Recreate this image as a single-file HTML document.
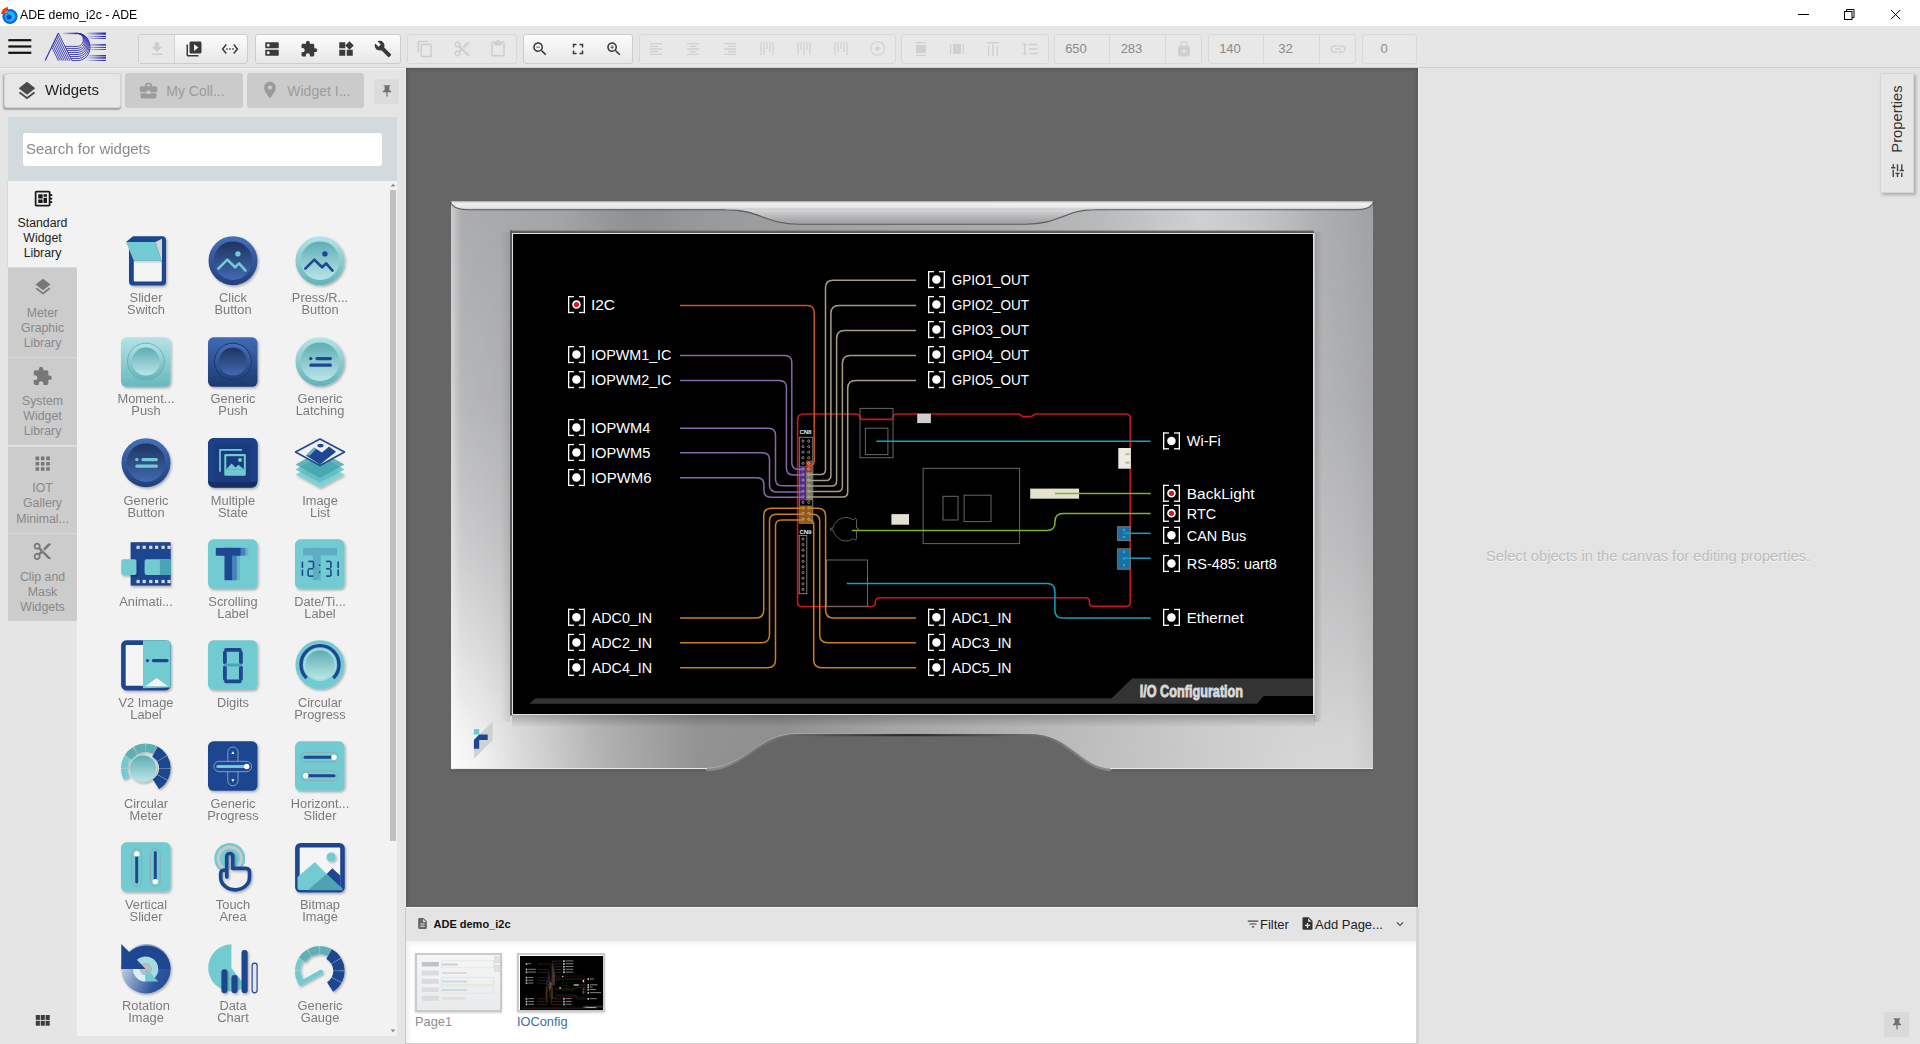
<!DOCTYPE html><html><head><meta charset="utf-8"><style>

*{box-sizing:border-box;margin:0;padding:0}
html,body{width:1920px;height:1044px;overflow:hidden;background:#e5e5e5;font-family:"Liberation Sans",sans-serif;-webkit-font-smoothing:antialiased}
.abs{position:absolute}

</style></head><body>
<div class="abs" style="left:0;top:0;width:1920px;height:26px;background:#fff"></div>
<svg class="abs" style="left:0px;top:6px" width="19" height="19" viewBox="0 0 19 19">
  <circle cx="10" cy="10.5" r="7.6" fill="#1560e8"/>
  <circle cx="10" cy="10.5" r="5.2" fill="#18b8f8"/>
  <circle cx="9" cy="11" r="2.6" fill="#1048d0"/>
  <path d="M1 8 A7.5 7.5 0 0 1 8 1 L8 8Z" fill="#f23a12"/>
  <circle cx="6.3" cy="6" r="1.3" fill="#50d040"/>
 </svg>
<div class="abs" style="left:20px;top:9.34px;font-size:12px;line-height:12px;color:#000;white-space:nowrap;transform:scaleX(1.022);transform-origin:0 0;">ADE demo_i2c - ADE</div>
<svg class="abs" style="left:1790px;top:0" width="130" height="26" viewBox="1790 0 130 26">
  <path d="M1798 14.5h11" stroke="#000" stroke-width="1"/>
  <rect x="1844.5" y="11.5" width="7.5" height="8" fill="none" stroke="#000" stroke-width="1"/>
  <path d="M1846.5 11.5v-2h7.5v8h-2" fill="none" stroke="#000" stroke-width="1"/>
  <path d="M1891 10l9.2 9.2M1900.2 10l-9.2 9.2" stroke="#000" stroke-width="1"/>
 </svg>
<div class="abs" style="left:0;top:26px;width:1920px;height:41px;background:#e6e6e6"></div>
<div class="abs" style="left:0;top:67px;width:1920px;height:1px;background:#d0d0d0"></div>
<svg class="abs" style="left:8px;top:38px" width="24" height="18" viewBox="8 38 24 18"><rect x="8.3" y="39.1" width="23" height="2.2" fill="#111"/><rect x="8.3" y="45.4" width="23" height="2.2" fill="#111"/><rect x="8.3" y="51.7" width="23" height="2.2" fill="#111"/></svg>
<svg class="abs" style="left:44px;top:31px" width="64" height="32" viewBox="44 31 64 32">
<defs><linearGradient id="fadeL" x1="85" x2="104" gradientUnits="userSpaceOnUse"><stop offset="0" stop-color="#2b2bb0" stop-opacity="0"/><stop offset="1" stop-color="#2b2bb0" stop-opacity="1"/></linearGradient><linearGradient id="fadeD" x1="61" x2="76" gradientUnits="userSpaceOnUse"><stop offset="0" stop-color="#2b2bb0" stop-opacity="0"/><stop offset="1" stop-color="#2b2bb0" stop-opacity="1"/></linearGradient></defs>
<path d="M45.2 60.6 L58.4 32.9" stroke="#2b2bb0" stroke-width="1.1" fill="none"/>
<path d="M58.40 32.90 L71.86 60.6" stroke="#2b2bb0" stroke-width="0.85" fill="none"/>
<path d="M57.49 34.99 L69.93 60.6" stroke="#2b2bb0" stroke-width="0.85" fill="none"/>
<path d="M56.57 37.07 L68.01 60.6" stroke="#2b2bb0" stroke-width="0.85" fill="none"/>
<path d="M55.66 39.16 L66.08 60.6" stroke="#2b2bb0" stroke-width="0.85" fill="none"/>
<path d="M54.74 41.24 L64.15 60.6" stroke="#2b2bb0" stroke-width="0.85" fill="none"/>
<path d="M53.83 43.33 L62.22 60.6" stroke="#2b2bb0" stroke-width="0.85" fill="none"/>
<path d="M52.91 45.41 L60.29 60.6" stroke="#2b2bb0" stroke-width="0.85" fill="none"/>
<path d="M52.00 47.50 L58.37 60.6" stroke="#2b2bb0" stroke-width="0.85" fill="none"/>
<path d="M61.4 33.4H77.5" stroke="url(#fadeD)" stroke-width="1.5"/>
<path d="M64.96 46.40H77C85.32 46.40 85.32 33.4 77 33.4" stroke="#2b2bb0" stroke-width="0.85" fill="none"/>
<path d="M65.95 48.43H77C86.62 48.43 86.62 33.4 77 33.4" stroke="#2b2bb0" stroke-width="0.85" fill="none"/>
<path d="M66.93 50.46H77C87.92 50.46 87.92 33.4 77 33.4" stroke="#2b2bb0" stroke-width="0.85" fill="none"/>
<path d="M67.92 52.49H77C89.22 52.49 89.22 33.4 77 33.4" stroke="#2b2bb0" stroke-width="0.85" fill="none"/>
<path d="M68.91 54.52H77C90.52 54.52 90.52 33.4 77 33.4" stroke="#2b2bb0" stroke-width="0.85" fill="none"/>
<path d="M69.89 56.55H77C91.82 56.55 91.82 33.4 77 33.4" stroke="#2b2bb0" stroke-width="0.85" fill="none"/>
<path d="M70.88 58.58H77C93.12 58.58 93.12 33.4 77 33.4" stroke="#2b2bb0" stroke-width="0.85" fill="none"/>
<path d="M71.87 60.61H77C94.41 60.61 94.41 33.4 77 33.4" stroke="#2b2bb0" stroke-width="0.85" fill="none"/>
<rect x="85" y="32.5" width="21" height="2.2" fill="url(#fadeL)"/>
<rect x="85" y="35.9" width="21" height="1.1" fill="url(#fadeL)"/>
<rect x="85" y="37.9" width="21" height="1.0" fill="url(#fadeL)"/>
<rect x="85" y="44.1" width="21" height="1.5" fill="url(#fadeL)"/>
<rect x="85" y="46.9" width="21" height="1.0" fill="url(#fadeL)"/>
<rect x="85" y="49.0" width="21" height="0.8" fill="url(#fadeL)"/>
<rect x="85" y="55.0" width="21" height="1.5" fill="url(#fadeL)"/>
<rect x="85" y="57.2" width="21" height="1.5" fill="url(#fadeL)"/>
<rect x="85" y="59.9" width="21" height="1.1" fill="url(#fadeL)"/>
</svg>
<div class="abs" style="left:138px;top:34px;width:110px;height:30px;border:1px solid #cdcdcd;border-radius:3px;background:linear-gradient(#fcfcfc,#e7e7e7);"></div>
<div class="abs" style="left:139px;top:35px;width:36px;height:28px;background:#e8e8e8;border-right:1px solid #d4d4d4"></div>
<svg class="abs" style="left:148.0px;top:40.0px" width="18" height="18" viewBox="0 0 24 24"><path d="M19 9h-4V3H9v6H5l7 7 7-7zM5 18v2h14v-2H5z" fill="#cdcdcd"/></svg>
<svg class="abs" style="left:184.5px;top:40.0px" width="18" height="18" viewBox="0 0 24 24"><path d="M4 6H2v14c0 1.1.9 2 2 2h14v-2H4V6zm16-4H8c-1.1 0-2 .9-2 2v12c0 1.1.9 2 2 2h12c1.1 0 2-.9 2-2V4c0-1.1-.9-2-2-2zm-8 12.5v-9l6 4.5-6 4.5z" fill="#3a3a3a"/></svg>
<svg class="abs" style="left:221.0px;top:40.0px" width="18" height="18" viewBox="0 0 24 24"><path d="M7.77 6.76L6.23 5.48.82 12l5.41 6.52 1.54-1.28L3.42 12l4.35-5.24zM7 13h2v-2H7v2zm10-2h-2v2h2v-2zm-6 2h2v-2h-2v2zm6.77-7.52l-1.54 1.28L20.58 12l-4.35 5.24 1.54 1.28L23.18 12l-5.41-6.52z" fill="#3a3a3a"/></svg>
<div class="abs" style="left:254.5px;top:34px;width:146.5px;height:30px;border:1px solid #cdcdcd;border-radius:3px;background:linear-gradient(#fcfcfc,#e7e7e7);"></div>
<svg class="abs" style="left:263.0px;top:40.0px" width="18" height="18" viewBox="0 0 24 24"><path d="M20 13H4c-.55 0-1 .45-1 1v6c0 .55.45 1 1 1h16c.55 0 1-.45 1-1v-6c0-.55-.45-1-1-1zM7 19c-1.1 0-2-.9-2-2s.9-2 2-2 2 .9 2 2-.9 2-2 2zM20 3H4c-.55 0-1 .45-1 1v6c0 .55.45 1 1 1h16c.55 0 1-.45 1-1V4c0-.55-.45-1-1-1zM7 9c-1.1 0-2-.9-2-2s.9-2 2-2 2 .9 2 2-.9 2-2 2z" fill="#3a3a3a"/></svg>
<svg class="abs" style="left:300.0px;top:40.0px" width="18" height="18" viewBox="0 0 24 24"><path d="M20.5 11H19V7c0-1.1-.9-2-2-2h-4V3.5C13 2.12 11.88 1 10.5 1S8 2.12 8 3.5V5H4c-1.1 0-1.99.9-1.99 2v3.8H3.5c1.49 0 2.7 1.21 2.7 2.7s-1.21 2.7-2.7 2.7H2V20c0 1.1.9 2 2 2h3.8v-1.5c0-1.490 1.21-2.7 2.7-2.7 1.49 0 2.7 1.21 2.7 2.7V22H17c1.1 0 2-.9 2-2v-4h1.5c1.38 0 2.5-1.12 2.5-2.5S21.88 11 20.5 11z" fill="#3a3a3a"/></svg>
<svg class="abs" style="left:337.0px;top:40.0px" width="18" height="18" viewBox="0 0 24 24"><path d="M13 13v8h8v-8h-8zM3 21h8v-8H3v8zM3 3v8h8V3H3zm13.66-1.31L11 7.34 16.66 13l5.66-5.66-5.66-5.65z" fill="#3a3a3a"/></svg>
<svg class="abs" style="left:374.0px;top:40.0px" width="18" height="18" viewBox="0 0 24 24"><path d="M22.7 19l-9.1-9.1c.9-2.3.4-5-1.5-6.9-2-2-5-2.4-7.4-1.3L9 6 6 9 1.6 4.7C.4 7.1.9 10.1 2.9 12.1c1.9 1.9 4.6 2.4 6.9 1.5l9.1 9.1c.4.4 1 .4 1.4 0l2.300-2.3c.5-.4.5-1.1.1-1.4z" fill="#3a3a3a"/></svg>
<div class="abs" style="left:407px;top:34px;width:109.5px;height:30px;border:1px solid #d8d8d8;border-radius:3px;background:#e8e8e8;"></div>
<svg class="abs" style="left:416.0px;top:40.0px" width="18" height="18" viewBox="0 0 24 24"><path d="M16 1H4c-1.1 0-2 .9-2 2v14h2V3h12V1zm3 4H8c-1.1 0-2 .9-2 2v14c0 1.1.9 2 2 2h11c1.1 0 2-.9 2-2V7c0-1.1-.9-2-2-2zm0 16H8V7h11v14z" fill="#cdcdcd"/></svg>
<svg class="abs" style="left:452.5px;top:40.0px" width="18" height="18" viewBox="0 0 24 24"><path d="M9.64 7.64c.23-.5.36-1.05.36-1.64 0-2.21-1.79-4-4-4S2 3.79 2 6s1.79 4 4 4c.59 0 1.14-.13 1.64-.36L10 12l-2.36 2.36C7.14 14.13 6.59 14 6 14c-2.21 0-4 1.79-4 4s1.79 4 4 4 4-1.790 4-4c0-.59-.13-1.14-.36-1.64L12 14l7 7h3v-1L9.64 7.64zM6 8c-1.1 0-2-.89-2-2s.9-2 2-2 2 .89 2 2-.9 2-2 2zm0 12c-1.1 0-2-.89-2-2s.9-2 2-2 2 .89 2 2-.9 2-2 2zm6-7.5c-.28 0-.5-.22-.5-.5s.22-.5.5-.5.5.22.5.5-.22.5-.5.5zM19 3l-6 6 2 2 7-7V3z" fill="#cdcdcd"/></svg>
<svg class="abs" style="left:489.0px;top:40.0px" width="18" height="18" viewBox="0 0 24 24"><path d="M19 2h-4.18C14.4.84 13.3 0 12 0c-1.3 0-2.4.84-2.82 2H5c-1.1 0-2 .9-2 2v16c0 1.1.9 2 2 2h14c1.1 0 2-.9 2-2V4c0-1.1-.9-2-2-2zm-7 0c.55 0 1 .45 1 1s-.45 1-1 1-1-.45-1-1 .45-1 1-1zm7 18H5V4h2v3h10V4h2v16z" fill="#cdcdcd"/></svg>
<div class="abs" style="left:522.5px;top:34px;width:110.0px;height:30px;border:1px solid #cdcdcd;border-radius:3px;background:linear-gradient(#fcfcfc,#e7e7e7);"></div>
<svg class="abs" style="left:531.0px;top:40.0px" width="18" height="18" viewBox="0 0 24 24"><path d="M15.5 14h-.79l-.28-.27C15.41 12.59 16 11.11 16 9.5 16 5.910 13.09 3 9.5 3S3 5.91 3 9.5 5.91 16 9.5 16c1.61 0 3.09-.59 4.23-1.57l.27.28v.79l5 4.99L20.49 19l-4.99-5zm-6 0C7.01 14 5 11.99 5 9.5S7.01 5 9.5 5 14 7.01 14 9.5 11.99 14 9.5 14zM7 9h5v1H7z" fill="#3a3a3a"/></svg>
<svg class="abs" style="left:568.5px;top:40.0px" width="18" height="18" viewBox="0 0 24 24"><path d="M7 14H5v5h5v-2H7v-3zm-2-4h2V7h3V5H5v5zm12 7h-3v2h5v-5h-2v3zM14 5v2h3v3h2V5h-5z" fill="#3a3a3a"/></svg>
<svg class="abs" style="left:605.0px;top:40.0px" width="18" height="18" viewBox="0 0 24 24"><path d="M15.5 14h-.79l-.28-.27C15.41 12.59 16 11.11 16 9.5 16 5.91 13.09 3 9.5 3S3 5.91 3 9.5 5.91 16 9.5 16c1.61 0 3.09-.59 4.23-1.57l.27.28v.79l5 4.99L20.49 19l-4.99-5zm-6 0C7.01 14 5 11.99 5 9.5S7.01 5 9.5 5 14 7.01 14 9.5 11.99 14 9.5 14zm2.5-4h-2v2H9v-2H7V9h2V7h1v2h2v1z" fill="#3a3a3a"/></svg>
<div class="abs" style="left:638.5px;top:34px;width:257.0px;height:30px;border:1px solid #d8d8d8;border-radius:3px;background:#e8e8e8;"></div>
<svg class="abs" style="left:648px;top:41px" width="16" height="16" viewBox="0 0 24 24"><path d="M15 15H3v2h12v-2zm0-8H3v2h12V7zM3 13h18v-2H3v2zm0 8h18v-2H3v2zM3 3v2h18V3H3z" fill="#d0d0d0"/></svg>
<svg class="abs" style="left:684.5px;top:41px" width="16" height="16" viewBox="0 0 24 24"><path d="M7 15v2h10v-2H7zm-4 6h18v-2H3v2zm0-8h18v-2H3v2zm4-6v2h10V7H7zM3 3v2h18V3H3z" fill="#d0d0d0"/></svg>
<svg class="abs" style="left:722px;top:41px" width="16" height="16" viewBox="0 0 24 24"><path d="M3 21h18v-2H3v2zm6-4h12v-2H9v2zm-6-4h18v-2H3v2zm6-4h12V7H9v2zM3 3v2h18V3H3z" fill="#d0d0d0"/></svg>
<svg class="abs" style="left:760px;top:41px" width="14" height="15" viewBox="0 0 14 15"><rect x="0.4" y="1" width="1.2" height="13" fill="#d0d0d0"/><rect x="3.4" y="1" width="1.2" height="13" fill="#d0d0d0"/><rect x="6.4" y="1" width="1.2" height="7" fill="#d0d0d0"/><rect x="9.4" y="1" width="1.2" height="10" fill="#d0d0d0"/><rect x="12.4" y="1" width="1.2" height="13" fill="#d0d0d0"/></svg>
<svg class="abs" style="left:797px;top:41px" width="14" height="15" viewBox="0 0 14 15"><rect x="0.4" y="1" width="1.2" height="13" fill="#d0d0d0"/><rect x="3.4" y="1" width="1.2" height="8" fill="#d0d0d0"/><rect x="6.4" y="1" width="1.2" height="13" fill="#d0d0d0"/><rect x="9.4" y="1" width="1.2" height="8" fill="#d0d0d0"/><rect x="12.4" y="1" width="1.2" height="13" fill="#d0d0d0"/></svg>
<svg class="abs" style="left:834px;top:41px" width="14" height="15" viewBox="0 0 14 15"><rect x="0.4" y="1" width="1.2" height="13" fill="#d0d0d0"/><rect x="3.4" y="1" width="1.2" height="10" fill="#d0d0d0"/><rect x="6.4" y="1" width="1.2" height="7" fill="#d0d0d0"/><rect x="9.4" y="1" width="1.2" height="10" fill="#d0d0d0"/><rect x="12.4" y="1" width="1.2" height="13" fill="#d0d0d0"/></svg>
<svg class="abs" style="left:869px;top:40px" width="17" height="17" viewBox="0 0 17 17"><circle cx="8.5" cy="8.5" r="6.8" fill="none" stroke="#d0d0d0" stroke-width="1.1"/><circle cx="8.5" cy="8.5" r="2" fill="#d0d0d0"/></svg>
<div class="abs" style="left:901px;top:34px;width:147.5px;height:30px;border:1px solid #d8d8d8;border-radius:3px;background:#e8e8e8;"></div>
<svg class="abs" style="left:913px;top:41px" width="16" height="16" viewBox="0 0 16 16"><rect x="3" y="1" width="10" height="1.3" fill="#d0d0d0"/><rect x="3" y="4" width="10" height="8" fill="#d0d0d0"/><rect x="3" y="13.7" width="10" height="1.3" fill="#d0d0d0"/></svg>
<svg class="abs" style="left:949px;top:41px" width="16" height="16" viewBox="0 0 16 16"><rect x="1" y="3" width="1.3" height="10" fill="#d0d0d0"/><rect x="4" y="3" width="8" height="10" fill="#d0d0d0"/><rect x="13.7" y="3" width="1.3" height="10" fill="#d0d0d0"/></svg>
<svg class="abs" style="left:985px;top:41px" width="16" height="16" viewBox="0 0 16 16"><rect x="2" y="1" width="12" height="1.3" fill="#d0d0d0"/><rect x="3" y="5" width="1.3" height="10" fill="#d0d0d0"/><rect x="7.3" y="5" width="1.3" height="10" fill="#d0d0d0"/><rect x="11.6" y="5" width="1.3" height="10" fill="#d0d0d0"/><path d="M8 2v3" stroke="#d0d0d0"/></svg>
<svg class="abs" style="left:1021px;top:40px" width="18" height="18" viewBox="0 0 24 24"><path d="M6 7h2.5L5 3.5 1.5 7H4v10H1.5L5 20.5 8.5 17H6V7zm4-2v2h12V5H10zm0 14h12v-2H10v2zm0-6h12v-2H10v2z" fill="#d0d0d0"/></svg>
<div class="abs" style="left:1054px;top:34px;width:148px;height:30px;border:1px solid #d8d8d8;border-radius:3px;background:#e8e8e8;"></div>
<div class="abs" style="left:1109px;top:35px;width:1px;height:28px;background:#d8d8d8"></div>
<div class="abs" style="left:1165px;top:35px;width:1px;height:28px;background:#d8d8d8"></div>
<div class="abs" style="left:876px;width:400px;text-align:center;top:42.30px;font-size:13px;line-height:13px;color:#8a8a8a;white-space:nowrap;">650</div>
<div class="abs" style="left:931.5px;width:400px;text-align:center;top:42.30px;font-size:13px;line-height:13px;color:#8a8a8a;white-space:nowrap;">283</div>
<svg class="abs" style="left:1175px;top:40px" width="18" height="18" viewBox="0 0 24 24"><path d="M18 8h-1V6c0-2.76-2.24-5-5-5S7 3.24 7 6v2H6c-1.1 0-2 .9-2 2v10c0 1.1.9 2 2 2h12c1.1 0 2-.9 2-2V10c0-1.1-.9-2-2-2zm-6 9c-1.1 0-2-.9-2-2s.9-2 2-2 2 .9 2 2-.9 2-2 2zm3.1-9H8.9V6c0-1.71 1.39-3.1 3.1-3.1 1.71 0 3.1 1.39 3.1 3.1v2z" fill="#d0d0d0"/></svg>
<div class="abs" style="left:1208px;top:34px;width:148px;height:30px;border:1px solid #d8d8d8;border-radius:3px;background:#e8e8e8;"></div>
<div class="abs" style="left:1263px;top:35px;width:1px;height:28px;background:#d8d8d8"></div>
<div class="abs" style="left:1319px;top:35px;width:1px;height:28px;background:#d8d8d8"></div>
<div class="abs" style="left:1030px;width:400px;text-align:center;top:42.30px;font-size:13px;line-height:13px;color:#8a8a8a;white-space:nowrap;">140</div>
<div class="abs" style="left:1085.5px;width:400px;text-align:center;top:42.30px;font-size:13px;line-height:13px;color:#8a8a8a;white-space:nowrap;">32</div>
<svg class="abs" style="left:1329px;top:40px" width="18" height="18" viewBox="0 0 24 24"><path d="M3.9 12c0-1.71 1.39-3.1 3.1-3.1h4V7H7c-2.76 0-5 2.24-5 5s2.24 5 5 5h4v-1.9H7c-1.71 0-3.1-1.39-3.1-3.1zM8 13h8v-2H8v2zm9-6h-4v1.9h4c1.71 0 3.1 1.39 3.1 3.1s-1.39 3.1-3.1 3.1h-4V17h4c2.76 0 5-2.24 5-5s-2.24-5-5-5z" fill="#d0d0d0"/></svg>
<div class="abs" style="left:1362px;top:34px;width:55px;height:30px;border:1px solid #d8d8d8;border-radius:3px;background:#e8e8e8;"></div>
<div class="abs" style="left:1184px;width:400px;text-align:center;top:42.30px;font-size:13px;line-height:13px;color:#8a8a8a;white-space:nowrap;">0</div>
<svg width="0" height="0" style="position:absolute"><defs>
<linearGradient id="gBlueOut" x1="0" y1="0" x2="0" y2="1"><stop offset="0" stop-color="#4470b9"/><stop offset="1" stop-color="#213f7c"/></linearGradient>
<linearGradient id="gBlueIn" x1="0" y1="0" x2="0" y2="1"><stop offset="0" stop-color="#1d3460"/><stop offset="1" stop-color="#4369b1"/></linearGradient>
<linearGradient id="gTealOut" x1="0" y1="0" x2="0" y2="1"><stop offset="0" stop-color="#b6e4e7"/><stop offset="1" stop-color="#62b3b9"/></linearGradient>
<linearGradient id="gTealIn" x1="0" y1="0" x2="0" y2="1"><stop offset="0" stop-color="#5eadb3"/><stop offset="1" stop-color="#b9e6e8"/></linearGradient>
<linearGradient id="gRot" x1="0" y1="0.5" x2="1" y2="1"><stop offset="0" stop-color="#c3cde3"/><stop offset="0.65" stop-color="#2f579e"/><stop offset="1" stop-color="#1f4690"/></linearGradient>
<filter id="sh" x="-20%" y="-20%" width="150%" height="150%"><feDropShadow dx="1.2" dy="1.5" stdDeviation="1.2" flood-color="#000" flood-opacity="0.3"/></filter>
</defs></svg>
<div class="abs" style="left:0;top:68px;width:405px;height:976px;background:#e5e5e5"></div>
<div class="abs" style="left:0;top:68px;width:406px;height:1px;background:#f3f3f3"></div>
<div class="abs" style="left:405px;top:68px;width:1px;height:976px;background:#eeeeee"></div>
<div class="abs" style="left:4px;top:72.5px;width:117px;height:35.5px;background:#e7e7e7;border:1px solid #d2d2d2;border-radius:3px;box-shadow:-0.5px 1.5px 1.5px rgba(0,0,0,.28)"></div>
<svg class="abs" style="left:15.5px;top:79.5px" width="22" height="22" viewBox="0 0 24 24"><path d="M11.99 18.54l-7.37-5.73L3 14.07l9 7 9-7-1.63-1.27-7.38 5.74zM12 16l7.36-5.73L21 9l-9-7-9 7 1.63 1.27L12 16z" fill="#4a4a4a"/></svg>
<div class="abs" style="left:44.8px;top:83.35px;font-size:14px;line-height:14px;color:#222;white-space:nowrap;transform:scaleX(1.067);transform-origin:0 0;">Widgets</div>
<div class="abs" style="left:125px;top:72.5px;width:118px;height:35px;background:#cbcbcb;border-radius:3px"></div>
<svg class="abs" style="left:137.5px;top:80px" width="21" height="21" viewBox="0 0 24 24"><path d="M10 16v-1H3.01L3 19c0 1.11.89 2 2 2h14c1.11 0 2-.89 2-2v-4h-7v1h-4zm10-9h-4.01V5l-2-2h-4l-2 2v2H4c-1.1 0-2 .9-2 2v3c0 1.11.89 2 2 2h6v-2h4v2h6c1.1 0 2-.9 2-2V9c0-1.1-.9-2-2-2zm-6 0h-4V5h4v2z" fill="#9b9b9b"/></svg>
<div class="abs" style="left:166.3px;top:83.55px;font-size:14px;line-height:14px;color:#9b9b9b;white-space:nowrap;">My Coll...</div>
<div class="abs" style="left:247px;top:72.5px;width:117px;height:35px;background:#cbcbcb;border-radius:3px"></div>
<svg class="abs" style="left:259.5px;top:79.5px" width="20" height="20" viewBox="0 0 24 24"><path d="M12 2C8.13 2 5 5.13 5 9c0 5.25 7 13 7 13s7-7.75 7-13c0-3.87-3.13-7-7-7zm0 9.5c-1.38 0-2.5-1.12-2.5-2.5s1.12-2.5 2.5-2.5 2.5 1.12 2.5 2.5-1.12 2.5-2.5 2.5z" fill="#9b9b9b"/></svg>
<div class="abs" style="left:287.3px;top:83.55px;font-size:14px;line-height:14px;color:#9b9b9b;white-space:nowrap;">Widget I...</div>
<div class="abs" style="left:374px;top:79px;width:25px;height:25px;background:#dcdcdc;border-radius:3px"></div>
<svg class="abs" style="left:379.5px;top:84px" width="14" height="14" viewBox="0 0 24 24"><path d="M16 9V4h1c.55 0 1-.45 1-1s-.45-1-1-1H7c-.55 0-1 .45-1 1s.45 1 1 1h1v5c0 1.66-1.34 3-3 3v2h5.97v7l1 1 1-1v-7H19v-2c-1.66 0-3-1.34-3-3z" fill="#707070"/></svg>
<div class="abs" style="left:8px;top:117px;width:389px;height:64px;background:#d3dadd"></div>
<div class="abs" style="left:22.8px;top:132.5px;width:359.2px;height:33.5px;background:#fff;border-radius:3px"></div>
<div class="abs" style="left:26.2px;top:142.43px;font-size:14.5px;line-height:14.5px;color:#8a8a8a;white-space:nowrap;transform:scaleX(1.035);transform-origin:0 0;">Search for widgets</div>
<div class="abs" style="left:77px;top:181px;width:320px;height:855px;background:#f2f2f2"></div>
<div class="abs" style="left:8px;top:181px;width:69px;height:86.4px;background:#f2f2f2"></div>
<svg class="abs" style="left:32.9px;top:187.9px" width="21" height="21" viewBox="0 0 24 24"><path d="M22 9V7h-2V5c0-1.1-.9-2-2-2H4c-1.1 0-2 .9-2 2v14c0 1.1.9 2 2 2h14c1.1 0 2-.9 2-2v-2h2v-2h-2v-2h2v-2h-2V9h2zm-4 10H4V5h14v14zM6 13h5v4H6zm6-6h4v3h-4zM6 7h5v5H6zm6 4h4v6h-4z" fill="#1a1a1a"/></svg>
<div class="abs" style="left:-2.5px;width:90px;text-align:center;top:217.39px;font-size:12.3px;line-height:12.3px;color:#222;white-space:nowrap;">Standard</div>
<div class="abs" style="left:-2.5px;width:90px;text-align:center;top:232.09px;font-size:12.3px;line-height:12.3px;color:#222;white-space:nowrap;">Widget</div>
<div class="abs" style="left:-2.5px;width:90px;text-align:center;top:246.59px;font-size:12.3px;line-height:12.3px;color:#222;white-space:nowrap;">Library</div>
<div class="abs" style="left:8px;top:267.4px;width:69px;height:89.8px;background:#cccccc"></div>
<div class="abs" style="left:8px;top:267.4px;width:69px;height:1px;background:#d9d9d9"></div>
<svg class="abs" style="left:32.5px;top:276.9px" width="20" height="20" viewBox="0 0 24 24"><path d="M11.99 18.54l-7.37-5.73L3 14.07l9 7 9-7-1.63-1.27-7.38 5.74zM12 16l7.36-5.73L21 9l-9-7-9 7 1.63 1.27L12 16z" fill="#777"/></svg>
<div class="abs" style="left:-2.5px;width:90px;text-align:center;top:306.59px;font-size:12.3px;line-height:12.3px;color:#888;white-space:nowrap;">Meter</div>
<div class="abs" style="left:-2.5px;width:90px;text-align:center;top:321.59px;font-size:12.3px;line-height:12.3px;color:#888;white-space:nowrap;">Graphic</div>
<div class="abs" style="left:-2.5px;width:90px;text-align:center;top:336.59px;font-size:12.3px;line-height:12.3px;color:#888;white-space:nowrap;">Library</div>
<div class="abs" style="left:8px;top:357.2px;width:69px;height:88.3px;background:#cccccc"></div>
<div class="abs" style="left:8px;top:357.2px;width:69px;height:1px;background:#d9d9d9"></div>
<svg class="abs" style="left:32.15px;top:365.5px" width="20.7" height="20.7" viewBox="0 0 24 24"><path d="M20.5 11H19V7c0-1.1-.9-2-2-2h-4V3.5C13 2.12 11.88 1 10.5 1S8 2.12 8 3.5V5H4c-1.1 0-1.99.9-1.99 2v3.8H3.5c1.49 0 2.7 1.21 2.7 2.7s-1.21 2.7-2.7 2.7H2V20c0 1.1.9 2 2 2h3.8v-1.5c0-1.490 1.21-2.7 2.7-2.7 1.49 0 2.7 1.21 2.7 2.7V22H17c1.1 0 2-.9 2-2v-4h1.5c1.38 0 2.5-1.12 2.5-2.5S21.88 11 20.5 11z" fill="#777"/></svg>
<div class="abs" style="left:-2.5px;width:90px;text-align:center;top:394.79px;font-size:12.3px;line-height:12.3px;color:#888;white-space:nowrap;">System</div>
<div class="abs" style="left:-2.5px;width:90px;text-align:center;top:409.69px;font-size:12.3px;line-height:12.3px;color:#888;white-space:nowrap;">Widget</div>
<div class="abs" style="left:-2.5px;width:90px;text-align:center;top:424.79px;font-size:12.3px;line-height:12.3px;color:#888;white-space:nowrap;">Library</div>
<div class="abs" style="left:8px;top:445.5px;width:69px;height:87.5px;background:#cccccc"></div>
<div class="abs" style="left:8px;top:445.5px;width:69px;height:1px;background:#d9d9d9"></div>
<svg class="abs" style="left:31.8px;top:452.8px" width="21.4" height="21.4" viewBox="0 0 24 24"><path d="M4 8h4V4H4v4zm6 12h4v-4h-4v4zm-6 0h4v-4H4v4zm0-6h4v-4H4v4zm6 0h4v-4h-4v4zm6-10v4h4V4h-4zm-6 4h4V4h-4v4zm6 6h4v-4h-4v4zm0 6h4v-4h-4v4z" fill="#777"/></svg>
<div class="abs" style="left:-2.5px;width:90px;text-align:center;top:482.39px;font-size:12.3px;line-height:12.3px;color:#888;white-space:nowrap;">IOT</div>
<div class="abs" style="left:-2.5px;width:90px;text-align:center;top:497.49px;font-size:12.3px;line-height:12.3px;color:#888;white-space:nowrap;">Gallery</div>
<div class="abs" style="left:-2.5px;width:90px;text-align:center;top:512.79px;font-size:12.3px;line-height:12.3px;color:#888;white-space:nowrap;">Minimal...</div>
<div class="abs" style="left:8px;top:533px;width:69px;height:88.0px;background:#cccccc"></div>
<div class="abs" style="left:8px;top:533px;width:69px;height:1px;background:#d9d9d9"></div>
<svg class="abs" style="left:32.2px;top:541.2px" width="20.6" height="20.6" viewBox="0 0 24 24"><path d="M9.64 7.64c.23-.5.36-1.05.36-1.64 0-2.21-1.79-4-4-4S2 3.79 2 6s1.79 4 4 4c.59 0 1.14-.13 1.64-.36L10 12l-2.36 2.36C7.14 14.13 6.59 14 6 14c-2.21 0-4 1.79-4 4s1.79 4 4 4 4-1.790 4-4c0-.59-.13-1.14-.36-1.64L12 14l7 7h3v-1L9.64 7.64zM6 8c-1.1 0-2-.89-2-2s.9-2 2-2 2 .89 2 2-.9 2-2 2zm0 12c-1.1 0-2-.89-2-2s.9-2 2-2 2 .89 2 2-.9 2-2 2zm6-7.5c-.28 0-.5-.22-.5-.5s.22-.5.5-.5.5.22.5.5-.22.5-.5.5zM19 3l-6 6 2 2 7-7V3z" fill="#777"/></svg>
<div class="abs" style="left:-2.5px;width:90px;text-align:center;top:571.29px;font-size:12.3px;line-height:12.3px;color:#888;white-space:nowrap;">Clip and</div>
<div class="abs" style="left:-2.5px;width:90px;text-align:center;top:585.89px;font-size:12.3px;line-height:12.3px;color:#888;white-space:nowrap;">Mask</div>
<div class="abs" style="left:-2.5px;width:90px;text-align:center;top:600.69px;font-size:12.3px;line-height:12.3px;color:#888;white-space:nowrap;">Widgets</div>
<div class="abs" style="left:7px;top:181px;width:1px;height:86px;background:#dadada"></div>
<svg class="abs" style="left:35px;top:1014px" width="16" height="13" viewBox="0 0 16 13"><rect x="0.8" y="1.0" width="4.1" height="4.9" fill="#3c3c3c"/><rect x="5.7" y="1.0" width="4.1" height="4.9" fill="#3c3c3c"/><rect x="10.6" y="1.0" width="4.1" height="4.9" fill="#3c3c3c"/><rect x="0.8" y="6.8" width="4.1" height="4.9" fill="#3c3c3c"/><rect x="5.7" y="6.8" width="4.1" height="4.9" fill="#3c3c3c"/><rect x="10.6" y="6.8" width="4.1" height="4.9" fill="#3c3c3c"/></svg>
<div class="abs" style="left:389.5px;top:189.5px;width:6.5px;height:651px;background:#c1c1c1"></div>
<svg class="abs" style="left:389px;top:182px" width="8" height="6" viewBox="0 0 8 6"><path d="M1.5 4.5L4 1.8L6.5 4.5Z" fill="#8a8a8a"/></svg>
<svg class="abs" style="left:389px;top:1028px" width="8" height="6" viewBox="0 0 8 6"><path d="M1.5 1.5L4 4.2L6.5 1.5Z" fill="#8a8a8a"/></svg>
<svg class="abs" style="left:121.25px;top:236px;overflow:visible" width="50" height="51" viewBox="0 0 50 51"><defs><linearGradient id="ssh" x1="0" y1="0" x2="0" y2="1"><stop offset="0" stop-color="#000" stop-opacity="0.18"/><stop offset="1" stop-color="#000" stop-opacity="0"/></linearGradient></defs>
<g filter="url(#sh)"><path d="M12 0.2H41a4 4 0 0 1 4 4V45.5a4 4 0 0 1-4 4H12a4 4 0 0 1-4-4V6.5L5 5.9Z" fill="#1f4690"/></g>
<rect x="12.8" y="24.6" width="28" height="20.9" rx="1" fill="#f3f3f3"/>
<rect x="12.8" y="24.6" width="28" height="3" fill="url(#ssh)"/>
<path d="M5 5.9H34.4L40.6 24.8H12.8Z" fill="#72cbd0"/>
<path d="M34.4 5.9L41 2.8V24.8H40.6Z" fill="#d4d4d4"/></svg>
<div class="abs" style="left:96.25px;width:100px;text-align:center;top:292.24px;font-size:12px;line-height:12px;color:#7b7b7b;white-space:nowrap;transform:scaleX(1.07);">Slider</div>
<div class="abs" style="left:96.25px;width:100px;text-align:center;top:304.34px;font-size:12px;line-height:12px;color:#7b7b7b;white-space:nowrap;transform:scaleX(1.07);">Switch</div>
<svg class="abs" style="left:208.30px;top:236px;overflow:visible" width="50" height="51" viewBox="0 0 50 51"><g filter="url(#sh)"><circle cx="25" cy="24.7" r="24.5" fill="url(#gBlueOut)"/></g><circle cx="25" cy="24.7" r="19.3" fill="url(#gBlueIn)"/><polyline points="10.3,32.6 19.3,23.6 27.1,31.3 31.1,27.4 37.5,34.6" fill="none" stroke="#72cbd0" stroke-width="2.6" stroke-linejoin="round" stroke-linecap="round"/><circle cx="29.9" cy="17.9" r="2.7" fill="#72cbd0"/></svg>
<div class="abs" style="left:183.3px;width:100px;text-align:center;top:292.24px;font-size:12px;line-height:12px;color:#7b7b7b;white-space:nowrap;transform:scaleX(1.07);">Click</div>
<div class="abs" style="left:183.3px;width:100px;text-align:center;top:304.34px;font-size:12px;line-height:12px;color:#7b7b7b;white-space:nowrap;transform:scaleX(1.07);">Button</div>
<svg class="abs" style="left:295.25px;top:236px;overflow:visible" width="50" height="51" viewBox="0 0 50 51"><g filter="url(#sh)"><circle cx="25" cy="24.7" r="24.5" fill="url(#gTealOut)"/></g><circle cx="25" cy="24.7" r="19.3" fill="url(#gTealIn)"/><polyline points="10.3,32.6 19.3,23.6 27.1,31.3 31.1,27.4 37.5,34.6" fill="none" stroke="#1f4690" stroke-width="2.6" stroke-linejoin="round" stroke-linecap="round"/><circle cx="29.9" cy="17.9" r="2.7" fill="#1f4690"/></svg>
<div class="abs" style="left:270.25px;width:100px;text-align:center;top:292.24px;font-size:12px;line-height:12px;color:#7b7b7b;white-space:nowrap;transform:scaleX(1.07);">Press/R...</div>
<div class="abs" style="left:270.25px;width:100px;text-align:center;top:304.34px;font-size:12px;line-height:12px;color:#7b7b7b;white-space:nowrap;transform:scaleX(1.07);">Button</div>
<svg class="abs" style="left:121.25px;top:337px;overflow:visible" width="50" height="51" viewBox="0 0 50 51"><defs><linearGradient id="mpBg" x1="0" y1="0" x2="0" y2="1"><stop offset="0" stop-color="#b4e3e6"/><stop offset="1" stop-color="#66b8bd"/></linearGradient></defs><g filter="url(#sh)"><rect x="0" y="0.3" width="49.5" height="49.5" rx="5.5" fill="url(#mpBg)" /></g><circle cx="24.9" cy="24.6" r="18.4" fill="url(#gTealOut)" stroke="#62aab0" stroke-width="0.8"/><circle cx="24.9" cy="24.6" r="14" fill="url(#gTealIn)"/></svg>
<div class="abs" style="left:96.25px;width:100px;text-align:center;top:393.37px;font-size:12px;line-height:12px;color:#7b7b7b;white-space:nowrap;transform:scaleX(1.07);">Moment...</div>
<div class="abs" style="left:96.25px;width:100px;text-align:center;top:405.47px;font-size:12px;line-height:12px;color:#7b7b7b;white-space:nowrap;transform:scaleX(1.07);">Push</div>
<svg class="abs" style="left:208.30px;top:337px;overflow:visible" width="50" height="51" viewBox="0 0 50 51"><defs><linearGradient id="gpBg" x1="0" y1="0" x2="0" y2="1"><stop offset="0" stop-color="#406bb6"/><stop offset="1" stop-color="#1d3970"/></linearGradient></defs><g filter="url(#sh)"><rect x="0" y="0.3" width="49.5" height="49.5" rx="5.5" fill="url(#gpBg)" /></g><circle cx="24.9" cy="24.6" r="18.4" fill="url(#gBlueOut)" stroke="#1d3565" stroke-width="1"/><circle cx="24.9" cy="24.6" r="14" fill="url(#gBlueIn)"/></svg>
<div class="abs" style="left:183.3px;width:100px;text-align:center;top:393.37px;font-size:12px;line-height:12px;color:#7b7b7b;white-space:nowrap;transform:scaleX(1.07);">Generic</div>
<div class="abs" style="left:183.3px;width:100px;text-align:center;top:405.47px;font-size:12px;line-height:12px;color:#7b7b7b;white-space:nowrap;transform:scaleX(1.07);">Push</div>
<svg class="abs" style="left:295.25px;top:337px;overflow:visible" width="50" height="51" viewBox="0 0 50 51"><g filter="url(#sh)"><circle cx="25" cy="24.7" r="24.5" fill="url(#gTealOut)"/></g><circle cx="25" cy="24.7" r="19.3" fill="url(#gTealIn)"/><circle cx="15.8" cy="21.6" r="1.7" fill="#1f4690"/><path d="M22 21.6H35.3M15.9 28.2H35.3" stroke="#1f4690" stroke-width="3.3" stroke-linecap="round"/></svg>
<div class="abs" style="left:270.25px;width:100px;text-align:center;top:393.37px;font-size:12px;line-height:12px;color:#7b7b7b;white-space:nowrap;transform:scaleX(1.07);">Generic</div>
<div class="abs" style="left:270.25px;width:100px;text-align:center;top:405.47px;font-size:12px;line-height:12px;color:#7b7b7b;white-space:nowrap;transform:scaleX(1.07);">Latching</div>
<svg class="abs" style="left:121.25px;top:438px;overflow:visible" width="50" height="51" viewBox="0 0 50 51"><g filter="url(#sh)"><circle cx="25" cy="24.7" r="24.5" fill="url(#gBlueOut)"/></g><circle cx="25" cy="24.7" r="19.3" fill="url(#gBlueIn)"/><circle cx="15.8" cy="21.6" r="1.7" fill="#72cbd0"/><path d="M22 21.6H35.3M15.9 28.2H35.3" stroke="#72cbd0" stroke-width="3.3" stroke-linecap="round"/></svg>
<div class="abs" style="left:96.25px;width:100px;text-align:center;top:494.50px;font-size:12px;line-height:12px;color:#7b7b7b;white-space:nowrap;transform:scaleX(1.07);">Generic</div>
<div class="abs" style="left:96.25px;width:100px;text-align:center;top:506.60px;font-size:12px;line-height:12px;color:#7b7b7b;white-space:nowrap;transform:scaleX(1.07);">Button</div>
<svg class="abs" style="left:208.30px;top:438px;overflow:visible" width="50" height="51" viewBox="0 0 50 51"><g filter="url(#sh)"><rect x="0" y="0" width="49.5" height="49.8" rx="6" fill="#132d66"/></g>
<path d="M6 0H43.5a6 6 0 0 1 6 6V43L44 44H5.5L0 43V6a6 6 0 0 1 6-6Z" fill="#1d4189"/>
<rect x="6.3" y="5.6" width="37" height="38.4" rx="1.5" fill="#1b3b7f"/>
<path d="M12 33.7V11.8H33.9" fill="none" stroke="#72cbd0" stroke-width="1.7"/>
<rect x="16.3" y="16.1" width="21.5" height="21.7" rx="1.2" fill="#72cbd0"/>
<rect x="18.3" y="18.2" width="17.5" height="13" fill="#1b3b7f"/>
<path d="M18.3 31.2L23.5 25.5L27.5 29.5L30.5 26.7L35.8 31.2Z" fill="#72cbd0"/>
<circle cx="32" cy="21.9" r="2" fill="#72cbd0"/></svg>
<div class="abs" style="left:183.3px;width:100px;text-align:center;top:494.50px;font-size:12px;line-height:12px;color:#7b7b7b;white-space:nowrap;transform:scaleX(1.07);">Multiple</div>
<div class="abs" style="left:183.3px;width:100px;text-align:center;top:506.60px;font-size:12px;line-height:12px;color:#7b7b7b;white-space:nowrap;transform:scaleX(1.07);">State</div>
<svg class="abs" style="left:295.25px;top:438px;overflow:visible" width="50" height="51" viewBox="0 0 50 51"><g filter="url(#sh)"><path d="M25 23L49.5 36.5L25 50L0.5 36.5Z" fill="#7dd0d4" opacity="0.9"/></g>
<path d="M25 18L49.5 31.5L25 45L0.5 31.5Z" fill="#5fbcc2" opacity="0.85"/>
<path d="M25 13L49.5 26.5L25 40L0.5 26.5Z" fill="#3ea4ad" opacity="0.8"/>
<path d="M25 1L49.5 14L25 27.5L0.5 14Z" fill="#f0f0f0" stroke="#1f4690" stroke-width="1.6" stroke-linejoin="round"/>
<path d="M11 17.6L19 9.5L27 14.5L34 8.5L41 13.8L25 26.5Z" fill="#1f4690"/>
<path d="M11 17.6L19 9.5L21 11L15 17.5Z" fill="#72cbd0" opacity="0.8"/>
<ellipse cx="25.5" cy="7.6" rx="3.1" ry="1.9" fill="#1f4690"/></svg>
<div class="abs" style="left:270.25px;width:100px;text-align:center;top:494.50px;font-size:12px;line-height:12px;color:#7b7b7b;white-space:nowrap;transform:scaleX(1.07);">Image</div>
<div class="abs" style="left:270.25px;width:100px;text-align:center;top:506.60px;font-size:12px;line-height:12px;color:#7b7b7b;white-space:nowrap;transform:scaleX(1.07);">List</div>
<svg class="abs" style="left:121.25px;top:539px;overflow:visible" width="50" height="51" viewBox="0 0 50 51"><g filter="url(#sh)"><rect x="9.6" y="3.2" width="40.1" height="43.4" fill="#1f4690"/></g><rect x="15.5" y="6.7" width="3.2" height="3.2" fill="#d8d8d8"/><rect x="15.5" y="40.9" width="3.2" height="3.2" fill="#d8d8d8"/><rect x="21.6" y="6.7" width="3.2" height="3.2" fill="#d8d8d8"/><rect x="21.6" y="40.9" width="3.2" height="3.2" fill="#d8d8d8"/><rect x="28.2" y="6.7" width="3.2" height="3.2" fill="#d8d8d8"/><rect x="28.2" y="40.9" width="3.2" height="3.2" fill="#d8d8d8"/><rect x="34.0" y="6.7" width="3.2" height="3.2" fill="#d8d8d8"/><rect x="34.0" y="40.9" width="3.2" height="3.2" fill="#d8d8d8"/><rect x="40.5" y="6.7" width="3.2" height="3.2" fill="#d8d8d8"/><rect x="40.5" y="40.9" width="3.2" height="3.2" fill="#d8d8d8"/><rect x="46.4" y="6.7" width="3.2" height="3.2" fill="#d8d8d8"/><rect x="46.4" y="40.9" width="3.2" height="3.2" fill="#d8d8d8"/>
<g filter="url(#sh)"><rect x="0.2" y="20.3" width="15.2" height="15.7" rx="2" fill="#72cbd0"/></g>
<rect x="23.6" y="20.3" width="26.1" height="15.7" rx="2" fill="#72cbd0"/>
<rect x="38.9" y="20.3" width="10.8" height="15.7" fill="#4aa3b2"/></svg>
<div class="abs" style="left:96.25px;width:100px;text-align:center;top:595.63px;font-size:12px;line-height:12px;color:#7b7b7b;white-space:nowrap;transform:scaleX(1.07);">Animati...</div>
<svg class="abs" style="left:208.30px;top:539px;overflow:visible" width="50" height="51" viewBox="0 0 50 51"><g filter="url(#sh)"><rect x="0" y="0.3" width="49.5" height="49.5" rx="5.5" fill="#72cbd0" /></g><g fill="#5a9cc8" opacity="0.55"><rect x="15.5" y="8.9" width="24.8" height="7.8"/><rect x="24.2" y="8.9" width="7.6" height="32.3"/></g>
<g fill="#3d78b4" opacity="0.8"><rect x="12.5" y="8.9" width="24.8" height="7.8"/><rect x="21.2" y="8.9" width="7.6" height="32.3"/></g>
<g fill="#1f4690"><rect x="7.8" y="8.9" width="24.8" height="7.8"/><rect x="16.5" y="8.9" width="7.6" height="32.3"/></g></svg>
<div class="abs" style="left:183.3px;width:100px;text-align:center;top:595.63px;font-size:12px;line-height:12px;color:#7b7b7b;white-space:nowrap;transform:scaleX(1.07);">Scrolling</div>
<div class="abs" style="left:183.3px;width:100px;text-align:center;top:607.73px;font-size:12px;line-height:12px;color:#7b7b7b;white-space:nowrap;transform:scaleX(1.07);">Label</div>
<svg class="abs" style="left:295.25px;top:539px;overflow:visible" width="50" height="51" viewBox="0 0 50 51"><g filter="url(#sh)"><rect x="0" y="0.3" width="49.5" height="49.5" rx="5.5" fill="#72cbd0" /></g><g fill="#4f95bd" opacity="0.55"><rect x="8.1" y="8.9" width="34" height="7.5"/><rect x="17.9" y="8.9" width="7.8" height="32.3"/></g>
<g fill="#1f4690"><rect x="6.6" y="22.6" width="1.6" height="6.3500000000000005"/><rect x="6.6" y="30.55" width="1.6" height="6.3500000000000005"/><rect x="13.3" y="21.6" width="5" height="1.6"/><rect x="17.7" y="22.6" width="1.6" height="6.3500000000000005"/><rect x="13.3" y="28.95" width="5" height="1.6"/><rect x="12.3" y="30.55" width="1.6" height="6.3500000000000005"/><rect x="13.3" y="36.300000000000004" width="5" height="1.6"/><rect x="23.8" y="25.3" width="1.6" height="1.6"/><rect x="23.8" y="32.3" width="1.6" height="1.6"/><rect x="31.1" y="21.6" width="4.6" height="1.6"/><rect x="35.1" y="22.6" width="1.6" height="6.3500000000000005"/><rect x="31.1" y="28.95" width="4.6" height="1.6"/><rect x="35.1" y="30.55" width="1.6" height="6.3500000000000005"/><rect x="31.1" y="36.300000000000004" width="4.6" height="1.6"/><rect x="42.3" y="22.6" width="1.6" height="6.3500000000000005"/><rect x="42.3" y="30.55" width="1.6" height="6.3500000000000005"/></g></svg>
<div class="abs" style="left:270.25px;width:100px;text-align:center;top:595.63px;font-size:12px;line-height:12px;color:#7b7b7b;white-space:nowrap;transform:scaleX(1.07);">Date/Ti...</div>
<div class="abs" style="left:270.25px;width:100px;text-align:center;top:607.73px;font-size:12px;line-height:12px;color:#7b7b7b;white-space:nowrap;transform:scaleX(1.07);">Label</div>
<svg class="abs" style="left:121.25px;top:640px;overflow:visible" width="50" height="51" viewBox="0 0 50 51"><g filter="url(#sh)"><rect x="2.4" y="2.6" width="45.1" height="45.5" rx="3" fill="#f5f5f5" stroke="#1f4690" stroke-width="4.6"/></g>
<path d="M22 0.3H46a3.7 3.7 0 0 1 3.7 3.7V47.5L22 48.3Z" fill="#72cbd0"/>
<path d="M24.5 46.3L35.5 38L47 46.3Z" fill="#f5f5f5"/>
<circle cx="26.5" cy="20.6" r="1.6" fill="#1f4690"/><path d="M32.4 20.6H46" stroke="#1f4690" stroke-width="3.2" stroke-linecap="round"/></svg>
<div class="abs" style="left:96.25px;width:100px;text-align:center;top:696.76px;font-size:12px;line-height:12px;color:#7b7b7b;white-space:nowrap;transform:scaleX(1.07);">V2 Image</div>
<div class="abs" style="left:96.25px;width:100px;text-align:center;top:708.86px;font-size:12px;line-height:12px;color:#7b7b7b;white-space:nowrap;transform:scaleX(1.07);">Label</div>
<svg class="abs" style="left:208.30px;top:640px;overflow:visible" width="50" height="51" viewBox="0 0 50 51"><g filter="url(#sh)"><rect x="0" y="0.3" width="49.5" height="49.5" rx="5.5" fill="#72cbd0" /></g><g fill="none" stroke-linecap="round"><path d="M18 9.9H31.8M16.9 12.6V22.4M32.9 12.6V22.4M16.9 27.4V38.8M32.9 27.4V38.8M18 41.3H31.8" stroke="#1f4690" stroke-width="3.8"/><path d="M17.5 24.9H32.3" stroke="#4aa6b6" stroke-width="3"/></g></svg>
<div class="abs" style="left:183.3px;width:100px;text-align:center;top:696.76px;font-size:12px;line-height:12px;color:#7b7b7b;white-space:nowrap;transform:scaleX(1.07);">Digits</div>
<svg class="abs" style="left:295.25px;top:640px;overflow:visible" width="50" height="51" viewBox="0 0 50 51"><g filter="url(#sh)"><circle cx="25" cy="24.7" r="24.5" fill="#72cbd0"/></g>
<path d="M11.6 38.1A19 19 0 1 1 38.4 38.1" fill="none" stroke="#1f4690" stroke-width="3.4"/>
<circle cx="25" cy="24.7" r="16.4" fill="#a5dbdf"/><circle cx="25" cy="24.7" r="14.5" fill="url(#gTealIn)"/></svg>
<div class="abs" style="left:270.25px;width:100px;text-align:center;top:696.76px;font-size:12px;line-height:12px;color:#7b7b7b;white-space:nowrap;transform:scaleX(1.07);">Circular</div>
<div class="abs" style="left:270.25px;width:100px;text-align:center;top:708.86px;font-size:12px;line-height:12px;color:#7b7b7b;white-space:nowrap;transform:scaleX(1.07);">Progress</div>
<svg class="abs" style="left:121.25px;top:741px;overflow:visible" width="50" height="51" viewBox="0 0 50 51"><g filter="url(#sh)"><path d="M2.69 38.76A24.9 24.9 0 0 1 -0.10 27.60L6.50 27.52A18.3 18.3 0 0 0 8.55 35.72Z" fill="#72cbd0"/><path d="M-0.10 27.00A24.9 24.9 0 0 1 3.30 14.74L9.00 18.07A18.3 18.3 0 0 0 6.50 27.08Z" fill="#72cbd0"/><path d="M3.61 14.22A24.9 24.9 0 0 1 12.09 5.89L16.43 13.20A16.4 16.4 0 0 0 10.85 18.68Z" fill="#60afb4"/><path d="M12.61 5.59A24.9 24.9 0 0 1 24.50 2.40L24.60 10.90A16.4 16.4 0 0 0 16.77 13.00Z" fill="#60afb4"/><path d="M25.10 2.40A24.9 24.9 0 0 1 36.22 5.17L32.32 12.73A16.4 16.4 0 0 0 25.00 10.90Z" fill="#60afb4"/><path d="M36.76 5.46A24.9 24.9 0 0 1 45.99 14.22L36.12 20.31A13.3 13.3 0 0 0 31.19 15.63Z" fill="#1f4690"/><path d="M46.30 14.74A24.9 24.9 0 0 1 49.70 27.00L38.10 27.14A13.3 13.3 0 0 0 36.28 20.59Z" fill="#1f4690"/><path d="M49.70 27.60A24.9 24.9 0 0 1 46.83 38.91L36.56 33.50A13.3 13.3 0 0 0 38.10 27.46Z" fill="#1f4690"/><path d="M46.54 39.45A24.9 24.9 0 0 1 38.14 48.32L31.93 38.53A13.3 13.3 0 0 0 36.41 33.79Z" fill="#1f4690"/></g><g filter="url(#sh)"><circle cx="21.95" cy="27.45" r="13.9" fill="#a9dee1"/><circle cx="21.95" cy="27.45" r="12.9" fill="url(#gTealIn)"/></g></svg>
<div class="abs" style="left:96.25px;width:100px;text-align:center;top:797.89px;font-size:12px;line-height:12px;color:#7b7b7b;white-space:nowrap;transform:scaleX(1.07);">Circular</div>
<div class="abs" style="left:96.25px;width:100px;text-align:center;top:809.99px;font-size:12px;line-height:12px;color:#7b7b7b;white-space:nowrap;transform:scaleX(1.07);">Meter</div>
<svg class="abs" style="left:208.30px;top:741px;overflow:visible" width="50" height="51" viewBox="0 0 50 51"><g filter="url(#sh)"><rect x="0" y="0.3" width="49.5" height="49.5" rx="5.5" fill="#1f4690" /></g><rect x="19.8" y="6" width="10.2" height="38.8" rx="5.1" fill="none" stroke="#8e9db6" stroke-width="1"/>
<rect x="5.9" y="20.3" width="37.7" height="10.4" rx="5.2" fill="#1f4690" stroke="#8e9db6" stroke-width="1"/>
<path d="M9.8 25.6H38.4" stroke="#72cbd0" stroke-width="3" stroke-linecap="round"/><circle cx="38.7" cy="25.5" r="2.7" fill="#fff"/>
<path d="M24.9 10.2L26.5 13H23.3Z M24.9 41L26.5 38.2H23.3Z" fill="#fff"/></svg>
<div class="abs" style="left:183.3px;width:100px;text-align:center;top:797.89px;font-size:12px;line-height:12px;color:#7b7b7b;white-space:nowrap;transform:scaleX(1.07);">Generic</div>
<div class="abs" style="left:183.3px;width:100px;text-align:center;top:809.99px;font-size:12px;line-height:12px;color:#7b7b7b;white-space:nowrap;transform:scaleX(1.07);">Progress</div>
<svg class="abs" style="left:295.25px;top:741px;overflow:visible" width="50" height="51" viewBox="0 0 50 51"><g filter="url(#sh)"><rect x="0" y="0.3" width="49.5" height="49.5" rx="5.5" fill="#72cbd0" /></g><rect x="6.2" y="11.3" width="37.1" height="9.6" rx="4.8" fill="none" stroke="#8faab0" stroke-width="1"/>
<path d="M10 16.2H38.7" stroke="#1f4690" stroke-width="3" stroke-linecap="round"/><circle cx="39" cy="16.2" r="2.7" fill="#fff"/>
<rect x="6.2" y="30" width="37.1" height="9.6" rx="4.8" fill="none" stroke="#8faab0" stroke-width="1"/>
<path d="M10.7 34.8H39" stroke="#1f4690" stroke-width="3" stroke-linecap="round"/><circle cx="10.7" cy="34.8" r="2.7" fill="#fff"/></svg>
<div class="abs" style="left:270.25px;width:100px;text-align:center;top:797.89px;font-size:12px;line-height:12px;color:#7b7b7b;white-space:nowrap;transform:scaleX(1.07);">Horizont...</div>
<div class="abs" style="left:270.25px;width:100px;text-align:center;top:809.99px;font-size:12px;line-height:12px;color:#7b7b7b;white-space:nowrap;transform:scaleX(1.07);">Slider</div>
<svg class="abs" style="left:121.25px;top:842px;overflow:visible" width="50" height="51" viewBox="0 0 50 51"><g filter="url(#sh)"><rect x="0" y="0.3" width="49.5" height="49.5" rx="5.5" fill="#72cbd0" /></g><rect x="10.9" y="6.7" width="9.7" height="37.7" rx="4.8" fill="none" stroke="#8faab0" stroke-width="1"/>
<path d="M15.7 11.9V40" stroke="#1f4690" stroke-width="3" stroke-linecap="round"/><circle cx="15.7" cy="11.9" r="2.7" fill="#fff"/>
<rect x="29.4" y="6.7" width="9.7" height="37.7" rx="4.8" fill="none" stroke="#8faab0" stroke-width="1"/>
<path d="M34.3 10.5V39.6" stroke="#1f4690" stroke-width="3" stroke-linecap="round"/><circle cx="34.3" cy="39.6" r="2.7" fill="#fff"/></svg>
<div class="abs" style="left:96.25px;width:100px;text-align:center;top:899.02px;font-size:12px;line-height:12px;color:#7b7b7b;white-space:nowrap;transform:scaleX(1.07);">Vertical</div>
<div class="abs" style="left:96.25px;width:100px;text-align:center;top:911.12px;font-size:12px;line-height:12px;color:#7b7b7b;white-space:nowrap;transform:scaleX(1.07);">Slider</div>
<svg class="abs" style="left:208.30px;top:842px;overflow:visible" width="50" height="51" viewBox="0 0 50 51"><circle cx="21.75" cy="16.55" r="15.5" fill="#72cbd0"/><circle cx="21.75" cy="16.55" r="13" fill="#c9c9c9"/><circle cx="21.75" cy="16.55" r="10.1" fill="#72cbd0"/>
<path d="M18.75 28.2V14.5A3 3 0 0 1 24.75 14.5V26.4H38A3.5 3.5 0 0 1 41.5 29.9V35.4A14.4 12.4 0 0 1 12.7 35.4V31.5A3.3 3.3 0 0 1 16 28.2Z" fill="#f0f0f0"/>
<path d="M20.2 28V15.5A1.5 1.5 0 0 1 23.3 15.5V28Z" fill="#cfcfcf"/>
<g filter="url(#sh)"><path d="M18.75 34.9V14.5A3 3 0 0 1 24.75 14.5V26.4H38A3.5 3.5 0 0 1 41.5 29.9V35.4A14.4 12.4 0 0 1 12.7 35.4V31.5A3.3 3.3 0 0 1 16 28.2H18.75" fill="none" stroke="#1f4690" stroke-width="3.7" stroke-linecap="round" stroke-linejoin="round"/></g></svg>
<div class="abs" style="left:183.3px;width:100px;text-align:center;top:899.02px;font-size:12px;line-height:12px;color:#7b7b7b;white-space:nowrap;transform:scaleX(1.07);">Touch</div>
<div class="abs" style="left:183.3px;width:100px;text-align:center;top:911.12px;font-size:12px;line-height:12px;color:#7b7b7b;white-space:nowrap;transform:scaleX(1.07);">Area</div>
<svg class="abs" style="left:295.25px;top:842px;overflow:visible" width="50" height="51" viewBox="0 0 50 51"><g filter="url(#sh)"><rect x="2.4" y="3.2" width="45.1" height="45" rx="3" fill="#f5f5f5" stroke="#1f4690" stroke-width="4.6"/></g>
<path d="M2.5 35L19.9 20L31.6 32L31 48H5a2.5 2.5 0 0 1-2.5-2.5Z" fill="#72cbd0"/>
<path d="M31.6 32L37.4 26.2L45.2 33.5V46Z" fill="#1f4690"/>
<path d="M12.7 48.2L31.6 32L47.5 46.5V48.2Z" fill="#4ca3b4"/>
<g filter="url(#sh)"><circle cx="36.1" cy="15.1" r="4.6" fill="#72cbd0"/></g></svg>
<div class="abs" style="left:270.25px;width:100px;text-align:center;top:899.02px;font-size:12px;line-height:12px;color:#7b7b7b;white-space:nowrap;transform:scaleX(1.07);">Bitmap</div>
<div class="abs" style="left:270.25px;width:100px;text-align:center;top:911.12px;font-size:12px;line-height:12px;color:#7b7b7b;white-space:nowrap;transform:scaleX(1.07);">Image</div>
<svg class="abs" style="left:121.25px;top:943px;overflow:visible" width="50" height="51" viewBox="0 0 50 51"><g filter="url(#sh)"><circle cx="24.9" cy="25.8" r="24.7" fill="url(#gRot)"/></g>
<path d="M0.25 26A24.7 24.7 0 0 1 49.6 26Z" fill="#1f4690"/>
<path d="M0.24 1L10.5 11.3L0.24 26Z" fill="#1f4690"/>
<path d="M15.74 17.09A12.6 12.6 0 0 1 33.56 34.91L28.89 30.24A6 6 0 0 0 20.41 21.76Z" fill="#a3dde1"/>
<path d="M24.65 38.6A12.6 12.6 0 0 1 12.05 26H18.65A6 6 0 0 0 24.65 32Z" fill="#d9f1f3"/>
<circle cx="24.65" cy="26" r="6" fill="#bdbdbd"/>
<path d="M24.65 26L15.74 17.09L12.05 21V26Z" fill="#1f4690"/>
<path d="M24.65 26L37.3 38.6H24.65Z" fill="#72cbd0"/>
<path d="M33.56 34.91L28.89 30.24L24.65 26V32L24.65 38.6Z" fill="#72cbd0"/></svg>
<div class="abs" style="left:96.25px;width:100px;text-align:center;top:1000.15px;font-size:12px;line-height:12px;color:#7b7b7b;white-space:nowrap;transform:scaleX(1.07);">Rotation</div>
<div class="abs" style="left:96.25px;width:100px;text-align:center;top:1012.25px;font-size:12px;line-height:12px;color:#7b7b7b;white-space:nowrap;transform:scaleX(1.07);">Image</div>
<svg class="abs" style="left:208.30px;top:943px;overflow:visible" width="50" height="51" viewBox="0 0 50 51"><path d="M23.4 1.2A23.6 23.6 0 1 0 38 43.6L23.4 25Z" fill="#72cbd0"/>
<g filter="url(#sh)" fill="#1f4690"><rect x="13.4" y="26.2" width="6.1" height="24.1" rx="3"/><rect x="23.4" y="32" width="6.2" height="18.3" rx="3"/><rect x="33.5" y="7" width="6.2" height="43.3" rx="3"/></g>
<rect x="44.1" y="20.2" width="5" height="29.6" rx="2.5" fill="#e4e4ea" stroke="#1f4690" stroke-width="1.2"/></svg>
<div class="abs" style="left:183.3px;width:100px;text-align:center;top:1000.15px;font-size:12px;line-height:12px;color:#7b7b7b;white-space:nowrap;transform:scaleX(1.07);">Data</div>
<div class="abs" style="left:183.3px;width:100px;text-align:center;top:1012.25px;font-size:12px;line-height:12px;color:#7b7b7b;white-space:nowrap;transform:scaleX(1.07);">Chart</div>
<svg class="abs" style="left:295.25px;top:943px;overflow:visible" width="50" height="51" viewBox="0 0 50 51"><g filter="url(#sh)"><path d="M4.23 41.88A24.9 24.9 0 0 1 -0.10 28.15L5.80 28.08A19 19 0 0 0 9.10 38.56Z" fill="#72cbd0"/><path d="M-0.10 27.55A24.9 24.9 0 0 1 3.30 15.29L7.96 18.01A19.5 19.5 0 0 0 5.30 27.61Z" fill="#72cbd0"/><path d="M3.61 14.77A24.9 24.9 0 0 1 12.09 6.44L16.32 13.58A16.6 16.6 0 0 0 10.68 19.13Z" fill="#60afb4"/><path d="M12.61 6.14A24.9 24.9 0 0 1 24.50 2.95L24.60 11.25A16.6 16.6 0 0 0 16.68 13.37Z" fill="#60afb4"/><path d="M25.10 2.95A24.9 24.9 0 0 1 36.22 5.72L32.41 13.10A16.6 16.6 0 0 0 25.00 11.25Z" fill="#60afb4"/><path d="M36.76 6.01A24.9 24.9 0 0 1 45.99 14.77L36.29 20.76A13.5 13.5 0 0 0 31.28 16.01Z" fill="#1f4690"/><path d="M46.30 15.29A24.9 24.9 0 0 1 49.70 27.55L38.30 27.69A13.5 13.5 0 0 0 36.46 21.04Z" fill="#1f4690"/><path d="M49.70 28.15A24.9 24.9 0 0 1 46.83 39.46L36.74 34.15A13.5 13.5 0 0 0 38.30 28.01Z" fill="#1f4690"/><path d="M46.54 40.00A24.9 24.9 0 0 1 38.14 48.87L32.03 39.25A13.5 13.5 0 0 0 36.58 34.44Z" fill="#1f4690"/><path d="M5.4 40.4L26 29" stroke="#72cbd0" stroke-width="4.4" stroke-linecap="round"/></g></svg>
<div class="abs" style="left:270.25px;width:100px;text-align:center;top:1000.15px;font-size:12px;line-height:12px;color:#7b7b7b;white-space:nowrap;transform:scaleX(1.07);">Generic</div>
<div class="abs" style="left:270.25px;width:100px;text-align:center;top:1012.25px;font-size:12px;line-height:12px;color:#7b7b7b;white-space:nowrap;transform:scaleX(1.07);">Gauge</div>
<div class="abs" style="left:406px;top:68px;width:1012px;height:839px;background:#666"></div>
<div class="abs" style="left:406px;top:68px;width:1012px;height:4px;background:linear-gradient(rgba(0,0,0,.12),rgba(0,0,0,0))"></div>
<div class="abs" style="left:406px;top:68px;width:4px;height:839px;background:linear-gradient(90deg,rgba(0,0,0,.12),rgba(0,0,0,0))"></div>
<div class="abs" style="left:1414px;top:68px;width:4px;height:839px;background:linear-gradient(90deg,rgba(0,0,0,0),rgba(0,0,0,.12))"></div>
<div class="abs" style="left:1418px;top:68px;width:1px;height:839px;background:#efefef"></div>
<svg class="abs" style="left:406px;top:68px" width="1012" height="839" viewBox="406 68 1012 839">
<defs>
<linearGradient id="bz" x1="451" x2="1373" y1="0" y2="0" gradientUnits="userSpaceOnUse">
 <stop offset="0.0000" stop-color="#b8b9bb"/>
 <stop offset="0.0076" stop-color="#acadaf"/>
 <stop offset="0.0315" stop-color="#a9aaac"/>
 <stop offset="0.1182" stop-color="#a3a4a6"/>
 <stop offset="0.1725" stop-color="#959697"/>
 <stop offset="0.2050" stop-color="#8f9091"/>
 <stop offset="0.2701" stop-color="#98999a"/>
 <stop offset="0.3785" stop-color="#a0a1a3"/>
 <stop offset="0.4870" stop-color="#a7a8aa"/>
 <stop offset="0.5954" stop-color="#acadaf"/>
 <stop offset="0.7039" stop-color="#b9babc"/>
 <stop offset="0.8124" stop-color="#d0d1d3"/>
 <stop offset="0.8774" stop-color="#c4c5c7"/>
 <stop offset="0.9425" stop-color="#aeafb1"/>
 <stop offset="1.0000" stop-color="#a0a1a3"/>
</linearGradient>
<linearGradient id="bzb" x1="451" x2="1373" y1="0" y2="0" gradientUnits="userSpaceOnUse">
 <stop offset="0.0000" stop-color="#fcfcfc"/>
 <stop offset="0.0315" stop-color="#f3f3f3"/>
 <stop offset="0.0748" stop-color="#dddddd"/>
 <stop offset="0.1616" stop-color="#b4b4b5"/>
 <stop offset="0.2701" stop-color="#929293"/>
 <stop offset="0.3568" stop-color="#8e8e8f"/>
 <stop offset="0.4870" stop-color="#a5a5a6"/>
 <stop offset="0.5954" stop-color="#b2b2b3"/>
 <stop offset="0.7039" stop-color="#bfbfc0"/>
 <stop offset="0.8124" stop-color="#cacacb"/>
 <stop offset="0.9208" stop-color="#d6d6d7"/>
 <stop offset="0.9751" stop-color="#d8d8d9"/>
 <stop offset="1.0000" stop-color="#cdcdce"/>
</linearGradient>
<linearGradient id="bzv" x1="0" x2="0" y1="201" y2="770" gradientUnits="userSpaceOnUse">
 <stop offset="0" stop-color="#fff" stop-opacity="0"/>
 <stop offset="0.35" stop-color="#fff" stop-opacity="0.15"/>
 <stop offset="0.61" stop-color="#fff" stop-opacity="0.42"/>
 <stop offset="0.79" stop-color="#fff" stop-opacity="0.68"/>
 <stop offset="0.92" stop-color="#fff" stop-opacity="0.9"/>
 <stop offset="1" stop-color="#fff" stop-opacity="1"/>
</linearGradient>
<mask id="bzmask" maskUnits="userSpaceOnUse" x="451" y="201" width="922" height="570"><rect x="451" y="201" width="922" height="570" fill="url(#bzv)"/></mask>
<linearGradient id="bzedge" x1="451" x2="462" y1="0" y2="0" gradientUnits="userSpaceOnUse">
 <stop offset="0" stop-color="#fff" stop-opacity="0.3"/><stop offset="1" stop-color="#fff" stop-opacity="0"/>
</linearGradient>
<linearGradient id="notchrim" x1="705" x2="1112" y1="0" y2="0" gradientUnits="userSpaceOnUse">
 <stop offset="0" stop-color="#8c8c8c"/>
 <stop offset="0.2" stop-color="#6a6a6a"/>
 <stop offset="0.5" stop-color="#2a2a2a"/>
 <stop offset="0.8" stop-color="#6a6a6a"/>
 <stop offset="1" stop-color="#8c8c8c"/>
</linearGradient>
<linearGradient id="scrshr" x1="1314.5" x2="1322.5" y1="0" y2="0" gradientUnits="userSpaceOnUse">
 <stop offset="0" stop-color="#000" stop-opacity="0.14"/><stop offset="1" stop-color="#000" stop-opacity="0"/>
</linearGradient>
<linearGradient id="scrshl" x1="510" x2="501" y1="0" y2="0" gradientUnits="userSpaceOnUse">
 <stop offset="0" stop-color="#000" stop-opacity="0.08"/><stop offset="1" stop-color="#000" stop-opacity="0"/>
</linearGradient>
<linearGradient id="scrsh" x1="0" x2="0" y1="715" y2="727" gradientUnits="userSpaceOnUse">
 <stop offset="0" stop-color="#000" stop-opacity="0.22"/>
 <stop offset="1" stop-color="#000" stop-opacity="0"/>
</linearGradient>
<linearGradient id="lip" x1="0" x2="0" y1="201" y2="210" gradientUnits="userSpaceOnUse">
 <stop offset="0" stop-color="#bdbdbd"/>
 <stop offset="0.3" stop-color="#f2f2f2"/>
 <stop offset="0.75" stop-color="#e4e4e4"/>
 <stop offset="1" stop-color="#b8b8b8"/>
</linearGradient>
<linearGradient id="groove" x1="0" x2="0" y1="209" y2="225" gradientUnits="userSpaceOnUse">
 <stop offset="0" stop-color="#dcdcdd"/>
 <stop offset="0.3" stop-color="#c2c3c5"/>
 <stop offset="0.7" stop-color="#a9aaac"/>
 <stop offset="1" stop-color="#a0a1a3"/>
</linearGradient>
<linearGradient id="scrtop" x1="0" x2="0" y1="230" y2="234" gradientUnits="userSpaceOnUse">
 <stop offset="0" stop-color="#707070"/><stop offset="1" stop-color="#4a4a4a"/>
</linearGradient>
</defs>
<path d="M451 201.5H1373V769H1110C1080 769 1070 734 1030 734H797C757 734 745 769 707 769H451Z" fill="url(#bz)"/>
<path d="M451 201.5H1373V769H1110C1080 769 1070 734 1030 734H797C757 734 745 769 707 769H451Z" fill="url(#bzb)" mask="url(#bzmask)"/>
<rect x="451" y="201.5" width="11" height="568" fill="url(#bzedge)"/>
<path d="M705 769.8C745 769.8 757 735 797 735H1030C1070 735 1080 769.8 1112 769.8" fill="none" stroke="url(#notchrim)" stroke-width="2.6"/>
<path d="M705 768.3C745 768.3 757 733.6 797 733.6H1030C1070 733.6 1080 768.3 1112 768.3" fill="none" stroke="#c8c8c8" stroke-width="0.8" opacity="0.6"/>
<path d="M451 768.5H707M1110 768.5H1373" stroke="#e8e8e8" stroke-width="1"/>
<path d="M451 770.5H707M1110 770.5H1373" stroke="#555" stroke-width="1.6" opacity="0.6"/>
<path d="M725 209C760 209 765 224 800 224H1025C1060 224 1065 209 1095 209Z" fill="url(#groove)"/>
<path d="M725 209.6C760 209.6 765 224.3 800 224.3H1025C1060 224.3 1065 209.6 1095 209.6" fill="none" stroke="#5a5a5a" stroke-width="1.1"/>
<path d="M451 201.3H1373V202C1373 206.5 1365 209.5 1356 209.5H468C459 209.5 451 206.5 451 202Z" fill="url(#lip)"/>
<path d="M451 202C451 206.8 459 209.8 468 209.8H725M1095 209.8H1356C1365 209.8 1373 206.8 1373 202" fill="none" stroke="#4e4e4e" stroke-width="1.1" opacity="0.85"/>
<rect x="512" y="715" width="803" height="12" fill="url(#scrsh)"/>
<rect x="1314.5" y="232" width="8" height="490" fill="url(#scrshr)"/>
<rect x="501" y="232" width="9" height="490" fill="url(#scrshl)"/>
<rect x="510" y="230.5" width="804" height="3" fill="url(#scrtop)"/>
<rect x="510" y="230.5" width="2.2" height="485" fill="#5a5a5a"/>
<rect x="512" y="233" width="802.5" height="482" fill="#e2e2e2"/>
<rect x="513" y="234" width="800" height="480" fill="#000"/>
<path d="M797.6 421V420q0-6 6-6H857.5c2.5 0 1.5 5.4 4.5 5.4H891c3 0 2-5.4 4.5-5.4H1018c2 0 3 2.6 5.5 2.6h7c2.5 0 3.5-2.6 5.5-2.6H1126.2q4 0 4 4V602.4q0 4-4 4H1093.4q-4 0-4-4v-0.6q0-4-4-4H880q-4.7 0-4.7 4.7v0q0 4-4 4H801.6q-4 0-4-4Z" fill="none" stroke="#cc1420" stroke-width="1.6"/>
<rect x="860" y="408.4" width="33.0" height="49.3" fill="none" stroke="#676767" stroke-width="1"/>
<rect x="865.4" y="428.2" width="22.5" height="26.4" fill="none" stroke="#676767" stroke-width="1"/>
<rect x="923.1" y="468.3" width="96.5" height="75.3" fill="none" stroke="#676767" stroke-width="1"/>
<rect x="943" y="496.3" width="15.0" height="23.7" fill="none" stroke="#676767" stroke-width="1"/>
<rect x="964.1" y="495.2" width="26.9" height="26.4" fill="none" stroke="#676767" stroke-width="1"/>
<rect x="826.5" y="560" width="41.0" height="46.4" fill="none" stroke="#676767" stroke-width="1"/>
<path d="M835 523.5c3-4 7-6 11-6c3 0 5 1 7 2.5l1.5-1.5c1 0 2 0.5 2 1.5v8h1.5v2.5h-1.5v8c0 1-1 1.5-2 1.5l-1.5-1.5c-2 1.5-4 2.5-7 2.5c-4 0-8-2-11-6.5c-1.2-1.6-1.8-3-2-4.3h-2.5v-2h2.5c0.3-2 1-3.4 2-4.5z" fill="none" stroke="#6a6a6a" stroke-width="0.9"/>
<rect x="917.2" y="413.7" width="13.7" height="9.4" fill="#cfcfcf"/>
<rect x="1030.2" y="488.6" width="48.9" height="10.1" fill="#e4e2cf"/>
<rect x="891.4" y="514.1" width="17.6" height="10.6" fill="#e4e2cf"/>
<rect x="1118.3" y="448" width="12.6" height="20.7" fill="#ecebe2"/>
<rect x="1125.5" y="453" width="4" height="2.2" fill="#b8b6aa"/><rect x="1125.5" y="461.5" width="4" height="2.2" fill="#b8b6aa"/>
<rect x="1117.7" y="526.7" width="12.5" height="13.9" fill="#1572a6" stroke="#7a7a7a" stroke-width="1"/>
<rect x="1117.7" y="548.8" width="12.5" height="20.4" fill="#1572a6" stroke="#7a7a7a" stroke-width="1"/>
<circle cx="1123.9" cy="530" r="0.8" fill="none" stroke="#9cc8e0" stroke-width="0.5"/>
<circle cx="1123.9" cy="537" r="0.8" fill="none" stroke="#9cc8e0" stroke-width="0.5"/>
<circle cx="1123.9" cy="552" r="0.8" fill="none" stroke="#9cc8e0" stroke-width="0.5"/>
<circle cx="1123.9" cy="558.5" r="0.8" fill="none" stroke="#9cc8e0" stroke-width="0.5"/>
<circle cx="1123.9" cy="565" r="0.8" fill="none" stroke="#9cc8e0" stroke-width="0.5"/>
<rect x="806" y="460.5" width="6.5" height="12" fill="#9c3e1c"/>
<rect x="799.8" y="466" width="6.4" height="34.5" fill="#522a8a"/>
<rect x="806" y="472" width="6.5" height="28.5" fill="#7c7662"/>
<rect x="799.8" y="505.5" width="12.7" height="17.5" fill="#8c5a1a"/>
<rect x="799.3" y="437.3" width="13.5" height="86" fill="none" stroke="#8a8a8a" stroke-width="0.9"/>
<circle cx="803" cy="441.0" r="1.1" fill="none" stroke="#cfcfcf" stroke-width="0.6"/>
<circle cx="808.7" cy="441.0" r="1.1" fill="none" stroke="#cfcfcf" stroke-width="0.6"/>
<circle cx="803" cy="446.6" r="1.1" fill="none" stroke="#cfcfcf" stroke-width="0.6"/>
<circle cx="808.7" cy="446.6" r="1.1" fill="none" stroke="#cfcfcf" stroke-width="0.6"/>
<circle cx="803" cy="452.2" r="1.1" fill="none" stroke="#cfcfcf" stroke-width="0.6"/>
<circle cx="808.7" cy="452.2" r="1.1" fill="none" stroke="#cfcfcf" stroke-width="0.6"/>
<circle cx="803" cy="457.7" r="1.1" fill="none" stroke="#cfcfcf" stroke-width="0.6"/>
<circle cx="808.7" cy="457.7" r="1.1" fill="none" stroke="#cfcfcf" stroke-width="0.6"/>
<circle cx="803" cy="463.3" r="1.1" fill="none" stroke="#cfcfcf" stroke-width="0.6"/>
<circle cx="808.7" cy="463.3" r="1.1" fill="none" stroke="#cfcfcf" stroke-width="0.6"/>
<circle cx="803" cy="468.9" r="1.1" fill="none" stroke="#cfcfcf" stroke-width="0.6"/>
<circle cx="808.7" cy="468.9" r="1.1" fill="none" stroke="#cfcfcf" stroke-width="0.6"/>
<circle cx="803" cy="474.5" r="1.1" fill="none" stroke="#cfcfcf" stroke-width="0.6"/>
<circle cx="808.7" cy="474.5" r="1.1" fill="none" stroke="#cfcfcf" stroke-width="0.6"/>
<circle cx="803" cy="480.1" r="1.1" fill="none" stroke="#cfcfcf" stroke-width="0.6"/>
<circle cx="808.7" cy="480.1" r="1.1" fill="none" stroke="#cfcfcf" stroke-width="0.6"/>
<circle cx="803" cy="485.6" r="1.1" fill="none" stroke="#cfcfcf" stroke-width="0.6"/>
<circle cx="808.7" cy="485.6" r="1.1" fill="none" stroke="#cfcfcf" stroke-width="0.6"/>
<circle cx="803" cy="491.2" r="1.1" fill="none" stroke="#cfcfcf" stroke-width="0.6"/>
<circle cx="808.7" cy="491.2" r="1.1" fill="none" stroke="#cfcfcf" stroke-width="0.6"/>
<circle cx="803" cy="496.8" r="1.1" fill="none" stroke="#cfcfcf" stroke-width="0.6"/>
<circle cx="808.7" cy="496.8" r="1.1" fill="none" stroke="#cfcfcf" stroke-width="0.6"/>
<circle cx="803" cy="502.4" r="1.1" fill="none" stroke="#cfcfcf" stroke-width="0.6"/>
<circle cx="808.7" cy="502.4" r="1.1" fill="none" stroke="#cfcfcf" stroke-width="0.6"/>
<circle cx="803" cy="508.0" r="1.1" fill="none" stroke="#cfcfcf" stroke-width="0.6"/>
<circle cx="808.7" cy="508.0" r="1.1" fill="none" stroke="#cfcfcf" stroke-width="0.6"/>
<circle cx="803" cy="513.5" r="1.1" fill="none" stroke="#cfcfcf" stroke-width="0.6"/>
<circle cx="808.7" cy="513.5" r="1.1" fill="none" stroke="#cfcfcf" stroke-width="0.6"/>
<circle cx="803" cy="519.1" r="1.1" fill="none" stroke="#cfcfcf" stroke-width="0.6"/>
<circle cx="808.7" cy="519.1" r="1.1" fill="none" stroke="#cfcfcf" stroke-width="0.6"/>
<rect x="799.2" y="535.5" width="7.6" height="58.2" fill="none" stroke="#8a8a8a" stroke-width="0.9"/>
<circle cx="803" cy="539.0" r="1.1" fill="none" stroke="#cfcfcf" stroke-width="0.6"/>
<circle cx="803" cy="544.6" r="1.1" fill="none" stroke="#cfcfcf" stroke-width="0.6"/>
<circle cx="803" cy="550.2" r="1.1" fill="none" stroke="#cfcfcf" stroke-width="0.6"/>
<circle cx="803" cy="555.8" r="1.1" fill="none" stroke="#cfcfcf" stroke-width="0.6"/>
<circle cx="803" cy="561.4" r="1.1" fill="none" stroke="#cfcfcf" stroke-width="0.6"/>
<circle cx="803" cy="567.0" r="1.1" fill="none" stroke="#cfcfcf" stroke-width="0.6"/>
<circle cx="803" cy="572.6" r="1.1" fill="none" stroke="#cfcfcf" stroke-width="0.6"/>
<circle cx="803" cy="578.2" r="1.1" fill="none" stroke="#cfcfcf" stroke-width="0.6"/>
<circle cx="803" cy="583.8" r="1.1" fill="none" stroke="#cfcfcf" stroke-width="0.6"/>
<circle cx="803" cy="589.4" r="1.1" fill="none" stroke="#cfcfcf" stroke-width="0.6"/>
<text x="799.5" y="434.3" font-size="6.2" fill="#e8e8e8" font-weight="bold" font-family="Liberation Sans, sans-serif" letter-spacing="-0.2">CN8</text>
<text x="799.5" y="533.5" font-size="6.2" fill="#e8e8e8" font-weight="bold" font-family="Liberation Sans, sans-serif" letter-spacing="-0.2">CN9</text>
<path d="M680 305.4H807q7.2 0 7.2 7.2V461q0 5-5 5H808" fill="none" stroke="#d0501f" stroke-width="1.5"/>
<path d="M680 355.5H784.8q7 0 7 7V462.5q0 7 7 7H803" fill="none" stroke="#8768a9" stroke-width="1.5"/>
<path d="M680 380.5H779.4q7 0 7 7V468q0 7 7 7H803" fill="none" stroke="#8768a9" stroke-width="1.5"/>
<path d="M680 428.2H768.5q7 0 7 7V479q0 6.8 6.8 6.8H803" fill="none" stroke="#8768a9" stroke-width="1.5"/>
<path d="M680 452.7H762.5q7 0 7 7V485q0 6.9 6.9 6.9H803" fill="none" stroke="#8768a9" stroke-width="1.5"/>
<path d="M680 477.8H756.9q7 0 7 7V490.2q0 7 7 7H803" fill="none" stroke="#8768a9" stroke-width="1.5"/>
<path d="M916 280.2H833q-7.5 0-7.5 7.5V469.6q0 5-5 5H808" fill="none" stroke="#a69d84" stroke-width="1.5"/>
<path d="M916 305.4H838.9q-8 0-8 8V475.4q0 5-5 5H808" fill="none" stroke="#a69d84" stroke-width="1.5"/>
<path d="M916 330.5H844.6q-8 0-8 8V481q0 5-5 5H808" fill="none" stroke="#a69d84" stroke-width="1.5"/>
<path d="M916 355.5H850.4q-8 0-8 8V486.6q0 5-5 5H808" fill="none" stroke="#a69d84" stroke-width="1.5"/>
<path d="M916 380.5H855.7q-8 0-8 8V492q0 5-5 5H808" fill="none" stroke="#a69d84" stroke-width="1.5"/>
<path d="M680 617.9H756q7.7 0 7.7-7.7V516q0-7.8 7.8-7.8H803" fill="none" stroke="#cd7e22" stroke-width="1.5"/>
<path d="M680 642.8H761.5q8 0 8-8V521q0-6.8 6.8-6.8H803" fill="none" stroke="#cd7e22" stroke-width="1.5"/>
<path d="M680 667.8H767.5q8 0 8-8V526q0-6 6-6H803" fill="none" stroke="#cd7e22" stroke-width="1.5"/>
<path d="M916 618.1H833.6q-8 0-8-8V516.2q0-8-8-8H808" fill="none" stroke="#cd7e22" stroke-width="1.5"/>
<path d="M916 642.8H827.7q-8 0-8-8V521q0-6.8-6.8-6.8H808" fill="none" stroke="#cd7e22" stroke-width="1.5"/>
<path d="M916 667.8H821.7q-8 0-8-8V525q0-5-5-5H808" fill="none" stroke="#cd7e22" stroke-width="1.5"/>
<path d="M876.4 441.2H1150.7" fill="none" stroke="#17a0bd" stroke-width="1.5"/>
<path d="M1123.8 533.3H1150.7" fill="none" stroke="#17a0bd" stroke-width="1.5"/>
<path d="M1123.8 558.2H1150.7" fill="none" stroke="#17a0bd" stroke-width="1.5"/>
<path d="M846.8 583.6H1047q7.9 0 7.9 7.9V610.2q0 7.9 7.9 7.9H1150.7" fill="none" stroke="#17a0bd" stroke-width="1.5"/>
<path d="M1054.9 493.4H1150.7" fill="none" stroke="#7cb334" stroke-width="1.5"/>
<path d="M1150.7 513.5H1063q-8 0-8 8V522.4q0 8-8 8H852" fill="none" stroke="#7cb334" stroke-width="1.5"/>
<rect x="568" y="296.05" width="1.3" height="17.1" fill="#fff"/><rect x="568" y="296.05" width="6" height="1.25" fill="#fff"/><rect x="568" y="311.85" width="6" height="1.3" fill="#fff"/><rect x="583.7" y="296.05" width="1.3" height="17.1" fill="#fff"/><rect x="579" y="296.05" width="6" height="1.25" fill="#fff"/><rect x="579" y="311.85" width="6" height="1.3" fill="#fff"/><circle cx="576.45" cy="304.60" r="4.25" fill="#fff"/><circle cx="576.45" cy="304.60" r="2.65" fill="#d8141c"/>
<text transform="translate(590.90 309.95) scale(1.0695 1)" font-size="14.5" fill="#fff" font-family="Liberation Sans, sans-serif">I2C</text>
<rect x="568" y="346.05" width="1.3" height="17.1" fill="#fff"/><rect x="568" y="346.05" width="6" height="1.25" fill="#fff"/><rect x="568" y="361.85" width="6" height="1.3" fill="#fff"/><rect x="583.7" y="346.05" width="1.3" height="17.1" fill="#fff"/><rect x="579" y="346.05" width="6" height="1.25" fill="#fff"/><rect x="579" y="361.85" width="6" height="1.3" fill="#fff"/><circle cx="576.45" cy="354.60" r="4.25" fill="#fff"/>
<text transform="translate(591.02 359.95) scale(0.9894 1)" font-size="14.5" fill="#fff" font-family="Liberation Sans, sans-serif">IOPWM1_IC</text>
<rect x="568" y="371.05" width="1.3" height="17.1" fill="#fff"/><rect x="568" y="371.05" width="6" height="1.25" fill="#fff"/><rect x="568" y="386.85" width="6" height="1.3" fill="#fff"/><rect x="583.7" y="371.05" width="1.3" height="17.1" fill="#fff"/><rect x="579" y="371.05" width="6" height="1.25" fill="#fff"/><rect x="579" y="386.85" width="6" height="1.3" fill="#fff"/><circle cx="576.45" cy="379.60" r="4.25" fill="#fff"/>
<text transform="translate(591.02 384.95) scale(0.9894 1)" font-size="14.5" fill="#fff" font-family="Liberation Sans, sans-serif">IOPWM2_IC</text>
<rect x="568" y="418.95" width="1.3" height="17.1" fill="#fff"/><rect x="568" y="418.95" width="6" height="1.25" fill="#fff"/><rect x="568" y="434.75" width="6" height="1.3" fill="#fff"/><rect x="583.7" y="418.95" width="1.3" height="17.1" fill="#fff"/><rect x="579" y="418.95" width="6" height="1.25" fill="#fff"/><rect x="579" y="434.75" width="6" height="1.3" fill="#fff"/><circle cx="576.45" cy="427.50" r="4.25" fill="#fff"/>
<text transform="translate(590.99 432.85) scale(1.0105 1)" font-size="14.5" fill="#fff" font-family="Liberation Sans, sans-serif">IOPWM4</text>
<rect x="568" y="443.95" width="1.3" height="17.1" fill="#fff"/><rect x="568" y="443.95" width="6" height="1.25" fill="#fff"/><rect x="568" y="459.75" width="6" height="1.3" fill="#fff"/><rect x="583.7" y="443.95" width="1.3" height="17.1" fill="#fff"/><rect x="579" y="443.95" width="6" height="1.25" fill="#fff"/><rect x="579" y="459.75" width="6" height="1.3" fill="#fff"/><circle cx="576.45" cy="452.50" r="4.25" fill="#fff"/>
<text transform="translate(590.99 457.85) scale(1.0105 1)" font-size="14.5" fill="#fff" font-family="Liberation Sans, sans-serif">IOPWM5</text>
<rect x="568" y="468.95" width="1.3" height="17.1" fill="#fff"/><rect x="568" y="468.95" width="6" height="1.25" fill="#fff"/><rect x="568" y="484.75" width="6" height="1.3" fill="#fff"/><rect x="583.7" y="468.95" width="1.3" height="17.1" fill="#fff"/><rect x="579" y="468.95" width="6" height="1.25" fill="#fff"/><rect x="579" y="484.75" width="6" height="1.3" fill="#fff"/><circle cx="576.45" cy="477.50" r="4.25" fill="#fff"/>
<text transform="translate(590.96 482.85) scale(1.0303 1)" font-size="14.5" fill="#fff" font-family="Liberation Sans, sans-serif">IOPWM6</text>
<rect x="568" y="608.75" width="1.3" height="17.1" fill="#fff"/><rect x="568" y="608.75" width="6" height="1.25" fill="#fff"/><rect x="568" y="624.55" width="6" height="1.3" fill="#fff"/><rect x="583.7" y="608.75" width="1.3" height="17.1" fill="#fff"/><rect x="579" y="608.75" width="6" height="1.25" fill="#fff"/><rect x="579" y="624.55" width="6" height="1.3" fill="#fff"/><circle cx="576.45" cy="617.30" r="4.25" fill="#fff"/>
<text transform="translate(591.80 622.65) scale(0.9851 1)" font-size="14.5" fill="#fff" font-family="Liberation Sans, sans-serif">ADC0_IN</text>
<rect x="568" y="633.85" width="1.3" height="17.1" fill="#fff"/><rect x="568" y="633.85" width="6" height="1.25" fill="#fff"/><rect x="568" y="649.65" width="6" height="1.3" fill="#fff"/><rect x="583.7" y="633.85" width="1.3" height="17.1" fill="#fff"/><rect x="579" y="633.85" width="6" height="1.25" fill="#fff"/><rect x="579" y="649.65" width="6" height="1.3" fill="#fff"/><circle cx="576.45" cy="642.40" r="4.25" fill="#fff"/>
<text transform="translate(591.80 647.75) scale(0.9851 1)" font-size="14.5" fill="#fff" font-family="Liberation Sans, sans-serif">ADC2_IN</text>
<rect x="568" y="658.85" width="1.3" height="17.1" fill="#fff"/><rect x="568" y="658.85" width="6" height="1.25" fill="#fff"/><rect x="568" y="674.65" width="6" height="1.3" fill="#fff"/><rect x="583.7" y="658.85" width="1.3" height="17.1" fill="#fff"/><rect x="579" y="658.85" width="6" height="1.25" fill="#fff"/><rect x="579" y="674.65" width="6" height="1.3" fill="#fff"/><circle cx="576.45" cy="667.40" r="4.25" fill="#fff"/>
<text transform="translate(591.80 672.75) scale(0.9851 1)" font-size="14.5" fill="#fff" font-family="Liberation Sans, sans-serif">ADC4_IN</text>
<rect x="928" y="271.05" width="1.3" height="17.1" fill="#fff"/><rect x="928" y="271.05" width="6" height="1.25" fill="#fff"/><rect x="928" y="286.85" width="6" height="1.3" fill="#fff"/><rect x="943.7" y="271.05" width="1.3" height="17.1" fill="#fff"/><rect x="939" y="271.05" width="6" height="1.25" fill="#fff"/><rect x="939" y="286.85" width="6" height="1.3" fill="#fff"/><circle cx="936.45" cy="279.60" r="4.25" fill="#fff"/>
<text transform="translate(951.80 284.95) scale(0.9300 1)" font-size="14.5" fill="#fff" font-family="Liberation Sans, sans-serif">GPIO1_OUT</text>
<rect x="928" y="296.05" width="1.3" height="17.1" fill="#fff"/><rect x="928" y="296.05" width="6" height="1.25" fill="#fff"/><rect x="928" y="311.85" width="6" height="1.3" fill="#fff"/><rect x="943.7" y="296.05" width="1.3" height="17.1" fill="#fff"/><rect x="939" y="296.05" width="6" height="1.25" fill="#fff"/><rect x="939" y="311.85" width="6" height="1.3" fill="#fff"/><circle cx="936.45" cy="304.60" r="4.25" fill="#fff"/>
<text transform="translate(951.80 309.95) scale(0.9300 1)" font-size="14.5" fill="#fff" font-family="Liberation Sans, sans-serif">GPIO2_OUT</text>
<rect x="928" y="321.05" width="1.3" height="17.1" fill="#fff"/><rect x="928" y="321.05" width="6" height="1.25" fill="#fff"/><rect x="928" y="336.85" width="6" height="1.3" fill="#fff"/><rect x="943.7" y="321.05" width="1.3" height="17.1" fill="#fff"/><rect x="939" y="321.05" width="6" height="1.25" fill="#fff"/><rect x="939" y="336.85" width="6" height="1.3" fill="#fff"/><circle cx="936.45" cy="329.60" r="4.25" fill="#fff"/>
<text transform="translate(951.80 334.95) scale(0.9300 1)" font-size="14.5" fill="#fff" font-family="Liberation Sans, sans-serif">GPIO3_OUT</text>
<rect x="928" y="346.05" width="1.3" height="17.1" fill="#fff"/><rect x="928" y="346.05" width="6" height="1.25" fill="#fff"/><rect x="928" y="361.85" width="6" height="1.3" fill="#fff"/><rect x="943.7" y="346.05" width="1.3" height="17.1" fill="#fff"/><rect x="939" y="346.05" width="6" height="1.25" fill="#fff"/><rect x="939" y="361.85" width="6" height="1.3" fill="#fff"/><circle cx="936.45" cy="354.60" r="4.25" fill="#fff"/>
<text transform="translate(951.80 359.95) scale(0.9300 1)" font-size="14.5" fill="#fff" font-family="Liberation Sans, sans-serif">GPIO4_OUT</text>
<rect x="928" y="371.05" width="1.3" height="17.1" fill="#fff"/><rect x="928" y="371.05" width="6" height="1.25" fill="#fff"/><rect x="928" y="386.85" width="6" height="1.3" fill="#fff"/><rect x="943.7" y="371.05" width="1.3" height="17.1" fill="#fff"/><rect x="939" y="371.05" width="6" height="1.25" fill="#fff"/><rect x="939" y="386.85" width="6" height="1.3" fill="#fff"/><circle cx="936.45" cy="379.60" r="4.25" fill="#fff"/>
<text transform="translate(951.80 384.95) scale(0.9300 1)" font-size="14.5" fill="#fff" font-family="Liberation Sans, sans-serif">GPIO5_OUT</text>
<rect x="928" y="608.75" width="1.3" height="17.1" fill="#fff"/><rect x="928" y="608.75" width="6" height="1.25" fill="#fff"/><rect x="928" y="624.55" width="6" height="1.3" fill="#fff"/><rect x="943.7" y="608.75" width="1.3" height="17.1" fill="#fff"/><rect x="939" y="608.75" width="6" height="1.25" fill="#fff"/><rect x="939" y="624.55" width="6" height="1.3" fill="#fff"/><circle cx="936.45" cy="617.30" r="4.25" fill="#fff"/>
<text transform="translate(951.80 622.65) scale(0.9765 1)" font-size="14.5" fill="#fff" font-family="Liberation Sans, sans-serif">ADC1_IN</text>
<rect x="928" y="633.85" width="1.3" height="17.1" fill="#fff"/><rect x="928" y="633.85" width="6" height="1.25" fill="#fff"/><rect x="928" y="649.65" width="6" height="1.3" fill="#fff"/><rect x="943.7" y="633.85" width="1.3" height="17.1" fill="#fff"/><rect x="939" y="633.85" width="6" height="1.25" fill="#fff"/><rect x="939" y="649.65" width="6" height="1.3" fill="#fff"/><circle cx="936.45" cy="642.40" r="4.25" fill="#fff"/>
<text transform="translate(951.80 647.75) scale(0.9765 1)" font-size="14.5" fill="#fff" font-family="Liberation Sans, sans-serif">ADC3_IN</text>
<rect x="928" y="658.85" width="1.3" height="17.1" fill="#fff"/><rect x="928" y="658.85" width="6" height="1.25" fill="#fff"/><rect x="928" y="674.65" width="6" height="1.3" fill="#fff"/><rect x="943.7" y="658.85" width="1.3" height="17.1" fill="#fff"/><rect x="939" y="658.85" width="6" height="1.25" fill="#fff"/><rect x="939" y="674.65" width="6" height="1.3" fill="#fff"/><circle cx="936.45" cy="667.40" r="4.25" fill="#fff"/>
<text transform="translate(951.80 672.75) scale(0.9765 1)" font-size="14.5" fill="#fff" font-family="Liberation Sans, sans-serif">ADC5_IN</text>
<rect x="1163" y="432.35" width="1.3" height="17.1" fill="#fff"/><rect x="1163" y="432.35" width="6" height="1.25" fill="#fff"/><rect x="1163" y="448.15" width="6" height="1.3" fill="#fff"/><rect x="1178.7" y="432.35" width="1.3" height="17.1" fill="#fff"/><rect x="1174" y="432.35" width="6" height="1.25" fill="#fff"/><rect x="1174" y="448.15" width="6" height="1.3" fill="#fff"/><circle cx="1171.45" cy="440.90" r="4.25" fill="#fff"/>
<text transform="translate(1186.80 446.25) scale(1.0006 1)" font-size="14.5" fill="#fff" font-family="Liberation Sans, sans-serif">Wi-Fi</text>
<rect x="1163" y="484.75" width="1.3" height="17.1" fill="#fff"/><rect x="1163" y="484.75" width="6" height="1.25" fill="#fff"/><rect x="1163" y="500.55" width="6" height="1.3" fill="#fff"/><rect x="1178.7" y="484.75" width="1.3" height="17.1" fill="#fff"/><rect x="1174" y="484.75" width="6" height="1.25" fill="#fff"/><rect x="1174" y="500.55" width="6" height="1.3" fill="#fff"/><circle cx="1171.45" cy="493.30" r="4.25" fill="#fff"/><circle cx="1171.45" cy="493.30" r="2.65" fill="#d8141c"/>
<text transform="translate(1186.80 498.65) scale(1.0662 1)" font-size="14.5" fill="#fff" font-family="Liberation Sans, sans-serif">BackLight</text>
<rect x="1163" y="504.75" width="1.3" height="17.1" fill="#fff"/><rect x="1163" y="504.75" width="6" height="1.25" fill="#fff"/><rect x="1163" y="520.55" width="6" height="1.3" fill="#fff"/><rect x="1178.7" y="504.75" width="1.3" height="17.1" fill="#fff"/><rect x="1174" y="504.75" width="6" height="1.25" fill="#fff"/><rect x="1174" y="520.55" width="6" height="1.3" fill="#fff"/><circle cx="1171.45" cy="513.30" r="4.25" fill="#fff"/><circle cx="1171.45" cy="513.30" r="2.65" fill="#d8141c"/>
<text transform="translate(1186.80 518.65) scale(0.9920 1)" font-size="14.5" fill="#fff" font-family="Liberation Sans, sans-serif">RTC</text>
<rect x="1163" y="526.75" width="1.3" height="17.1" fill="#fff"/><rect x="1163" y="526.75" width="6" height="1.25" fill="#fff"/><rect x="1163" y="542.55" width="6" height="1.3" fill="#fff"/><rect x="1178.7" y="526.75" width="1.3" height="17.1" fill="#fff"/><rect x="1174" y="526.75" width="6" height="1.25" fill="#fff"/><rect x="1174" y="542.55" width="6" height="1.3" fill="#fff"/><circle cx="1171.45" cy="535.30" r="4.25" fill="#fff"/>
<text transform="translate(1186.80 540.65) scale(0.9967 1)" font-size="14.5" fill="#fff" font-family="Liberation Sans, sans-serif">CAN Bus</text>
<rect x="1163" y="554.95" width="1.3" height="17.1" fill="#fff"/><rect x="1163" y="554.95" width="6" height="1.25" fill="#fff"/><rect x="1163" y="570.75" width="6" height="1.3" fill="#fff"/><rect x="1178.7" y="554.95" width="1.3" height="17.1" fill="#fff"/><rect x="1174" y="554.95" width="6" height="1.25" fill="#fff"/><rect x="1174" y="570.75" width="6" height="1.3" fill="#fff"/><circle cx="1171.45" cy="563.50" r="4.25" fill="#fff"/>
<text transform="translate(1186.80 568.85) scale(0.9989 1)" font-size="14.5" fill="#fff" font-family="Liberation Sans, sans-serif">RS-485: uart8</text>
<rect x="1163" y="608.85" width="1.3" height="17.1" fill="#fff"/><rect x="1163" y="608.85" width="6" height="1.25" fill="#fff"/><rect x="1163" y="624.65" width="6" height="1.3" fill="#fff"/><rect x="1178.7" y="608.85" width="1.3" height="17.1" fill="#fff"/><rect x="1174" y="608.85" width="6" height="1.25" fill="#fff"/><rect x="1174" y="624.65" width="6" height="1.3" fill="#fff"/><circle cx="1171.45" cy="617.40" r="4.25" fill="#fff"/>
<text transform="translate(1186.80 622.75) scale(1.0366 1)" font-size="14.5" fill="#fff" font-family="Liberation Sans, sans-serif">Ethernet</text>
<path d="M529.3 703.7L535.3 698.3H1111.6L1132 678.6H1313V696H1263.7L1257 703.7Z" fill="#333"/>
<text x="0" y="0" transform="translate(1139.7 696.9) scale(0.745 1)" font-size="17" font-weight="bold" fill="#d9d9d9" stroke="#d9d9d9" stroke-width="0.9" font-family="Liberation Sans, sans-serif">I/O Configuration</text>
<path d="M473.9 739.9L492.8 721.2V740.1L473.9 758.8Z" fill="#cfd2d4"/>
<rect x="473.8" y="729.1" width="5.4" height="5.5" fill="#6cc8cc"/>
<path d="M473.9 740L479.2 734.6H487.7V739.9H479.2V748.8H473.9Z" fill="#1f4590"/>
</svg>
<div class="abs" style="left:406px;top:907px;width:1012px;height:137px;background:#fff"></div>
<div class="abs" style="left:406px;top:907px;width:1012px;height:34px;background:#e4e4e4;border-top:1px solid #f4f4f4"></div>
<div class="abs" style="left:1416px;top:907px;width:3px;height:137px;background:#d6d6d6"></div>
<div class="abs" style="left:405px;top:907px;width:1px;height:137px;background:#c9c9c9"></div>
<div class="abs" style="left:406px;top:941px;width:1010px;height:103px;box-shadow:inset 3px 3px 4px rgba(0,0,0,.06)"></div>
<div class="abs" style="left:406px;top:1043px;width:1012px;height:1px;background:#d2d2d2"></div>
<svg class="abs" style="left:416px;top:917px" width="13" height="13" viewBox="0 0 24 24"><path d="M14 2H6c-1.1 0-1.99.9-1.99 2L4 20c0 1.1.89 2 1.99 2H18c1.1 0 2-.9 2-2V8l-6-6zm2 16H8v-2h8v2zm0-4H8v-2h8v2zm-3-5V3.5L18.5 9H13z" fill="#666"/></svg>
<div class="abs" style="left:433.5px;top:918.69px;font-size:11px;line-height:11px;color:#111;white-space:nowrap;font-weight:bold;">ADE demo_i2c</div>
<svg class="abs" style="left:1246px;top:917px" width="14" height="14" viewBox="0 0 24 24"><path d="M10 18h4v-2h-4v2zM3 6v2h18V6H3zm3 7h12v-2H6v2z" fill="#444"/></svg>
<div class="abs" style="left:1260px;top:917.50px;font-size:13px;line-height:13px;color:#222;white-space:nowrap;">Filter</div>
<svg class="abs" style="left:1300px;top:916px" width="15" height="15" viewBox="0 0 24 24"><path d="M14 2H6c-1.1 0-1.99.9-1.99 2L4 20c0 1.1.89 2 1.99 2H18c1.1 0 2-.9 2-2V8l-6-6zm2 14h-3v3h-2v-3H8v-2h3v-3h2v3h3v2zm-3-7V3.5L18.5 9H13z" fill="#333"/></svg>
<div class="abs" style="left:1315px;top:917.50px;font-size:13px;line-height:13px;color:#222;white-space:nowrap;">Add Page...</div>
<svg class="abs" style="left:1393px;top:917px" width="14" height="14" viewBox="0 0 24 24"><path d="M16.59 8.59L12 13.17 7.41 8.59 6 10l6 6 6-6z" fill="#444"/></svg>
<div class="abs" style="left:414.6px;top:953.1px;width:87.6px;height:58.5px;background:linear-gradient(#f6f6f7,#e8eaec);border:2px solid #cacaca;box-shadow:0 1px 2px rgba(0,0,0,.18)"></div>
<svg class="abs" style="left:414px;top:953px" width="90" height="60" viewBox="414 953 90 60"><rect x="421.8" y="962" width="17" height="4.5" fill="#bfc3c7"/><rect x="421.8" y="970.6" width="17" height="4.8" fill="#d9dbdd"/><rect x="421.8" y="979" width="17" height="4.8" fill="#d9dbdd"/><rect x="421.8" y="987.5" width="17" height="4.5" fill="#d9dbdd"/><rect x="421.8" y="995.8" width="17" height="5" fill="#d9dbdd"/><rect x="441.3" y="960.8" width="52.5" height="7" fill="none" stroke="#dbe8d8" stroke-width="0.8"/><rect x="441.3" y="977.6" width="52.5" height="7" fill="none" stroke="#dbe8d8" stroke-width="0.8"/><rect x="441.3" y="986.2" width="52.5" height="7" fill="none" stroke="#dbe8d8" stroke-width="0.8"/><rect x="442" y="963.5" width="16" height="2" fill="#c6d2e2"/><rect x="442" y="972" width="25" height="2" fill="#e0dad2"/><rect x="442" y="980.5" width="25" height="2" fill="#cdd7e4"/><rect x="442" y="989" width="25" height="2" fill="#cdd7e4"/><rect x="442" y="997.5" width="23" height="2" fill="#e0dad2"/><rect x="494.5" y="956.8" width="5.5" height="5.7" fill="#e2e2e2" stroke="#d0d0d0" stroke-width="0.6"/><rect x="494.5" y="965.6" width="5.5" height="5.9" fill="#e2e2e2" stroke="#d0d0d0" stroke-width="0.6"/></svg>
<div class="abs" style="left:415px;top:1015.56px;font-size:12.8px;line-height:12.8px;color:#8e8e8e;white-space:nowrap;">Page1</div>
<div class="abs" style="left:517.2px;top:953.1px;width:87.6px;height:58.5px;background:#fff;border:2px solid #cacaca;box-shadow:0 1px 2px rgba(0,0,0,.18)"></div>
<div class="abs" style="left:519.8px;top:956.2px;width:83px;height:53.6px;background:#000"></div>
<svg class="abs" style="left:519.8px;top:956.2px" width="83" height="53.6" viewBox="513 234 800 480" preserveAspectRatio="none"><rect x="513" y="234" width="800" height="480" fill="#000"/>
<path d="M797.6 421V420q0-6 6-6H857.5c2.5 0 1.5 5.4 4.5 5.4H891c3 0 2-5.4 4.5-5.4H1018c2 0 3 2.6 5.5 2.6h7c2.5 0 3.5-2.6 5.5-2.6H1126.2q4 0 4 4V602.4q0 4-4 4H1093.4q-4 0-4-4v-0.6q0-4-4-4H880q-4.7 0-4.7 4.7v0q0 4-4 4H801.6q-4 0-4-4Z" fill="none" stroke="#cc1420" stroke-width="2.5600000000000005"/>
<rect x="860" y="408.4" width="33.0" height="49.3" fill="none" stroke="#676767" stroke-width="1"/>
<rect x="865.4" y="428.2" width="22.5" height="26.4" fill="none" stroke="#676767" stroke-width="1"/>
<rect x="923.1" y="468.3" width="96.5" height="75.3" fill="none" stroke="#676767" stroke-width="1"/>
<rect x="943" y="496.3" width="15.0" height="23.7" fill="none" stroke="#676767" stroke-width="1"/>
<rect x="964.1" y="495.2" width="26.9" height="26.4" fill="none" stroke="#676767" stroke-width="1"/>
<rect x="826.5" y="560" width="41.0" height="46.4" fill="none" stroke="#676767" stroke-width="1"/>
<path d="M835 523.5c3-4 7-6 11-6c3 0 5 1 7 2.5l1.5-1.5c1 0 2 0.5 2 1.5v8h1.5v2.5h-1.5v8c0 1-1 1.5-2 1.5l-1.5-1.5c-2 1.5-4 2.5-7 2.5c-4 0-8-2-11-6.5c-1.2-1.6-1.8-3-2-4.3h-2.5v-2h2.5c0.3-2 1-3.4 2-4.5z" fill="none" stroke="#6a6a6a" stroke-width="0.9"/>
<rect x="917.2" y="413.7" width="13.7" height="9.4" fill="#cfcfcf"/>
<rect x="1030.2" y="488.6" width="48.9" height="10.1" fill="#e4e2cf"/>
<rect x="891.4" y="514.1" width="17.6" height="10.6" fill="#e4e2cf"/>
<rect x="1118.3" y="448" width="12.6" height="20.7" fill="#ecebe2"/>
<rect x="1125.5" y="453" width="4" height="2.2" fill="#b8b6aa"/><rect x="1125.5" y="461.5" width="4" height="2.2" fill="#b8b6aa"/>
<rect x="1117.7" y="526.7" width="12.5" height="13.9" fill="#1572a6" stroke="#7a7a7a" stroke-width="1"/>
<rect x="1117.7" y="548.8" width="12.5" height="20.4" fill="#1572a6" stroke="#7a7a7a" stroke-width="1"/>
<circle cx="1123.9" cy="530" r="0.8" fill="none" stroke="#9cc8e0" stroke-width="0.5"/>
<circle cx="1123.9" cy="537" r="0.8" fill="none" stroke="#9cc8e0" stroke-width="0.5"/>
<circle cx="1123.9" cy="552" r="0.8" fill="none" stroke="#9cc8e0" stroke-width="0.5"/>
<circle cx="1123.9" cy="558.5" r="0.8" fill="none" stroke="#9cc8e0" stroke-width="0.5"/>
<circle cx="1123.9" cy="565" r="0.8" fill="none" stroke="#9cc8e0" stroke-width="0.5"/>
<rect x="806" y="460.5" width="6.5" height="12" fill="#9c3e1c"/>
<rect x="799.8" y="466" width="6.4" height="34.5" fill="#522a8a"/>
<rect x="806" y="472" width="6.5" height="28.5" fill="#7c7662"/>
<rect x="799.8" y="505.5" width="12.7" height="17.5" fill="#8c5a1a"/>
<rect x="799.3" y="437.3" width="13.5" height="86" fill="none" stroke="#8a8a8a" stroke-width="0.9"/>
<circle cx="803" cy="441.0" r="1.1" fill="none" stroke="#cfcfcf" stroke-width="0.6"/>
<circle cx="808.7" cy="441.0" r="1.1" fill="none" stroke="#cfcfcf" stroke-width="0.6"/>
<circle cx="803" cy="446.6" r="1.1" fill="none" stroke="#cfcfcf" stroke-width="0.6"/>
<circle cx="808.7" cy="446.6" r="1.1" fill="none" stroke="#cfcfcf" stroke-width="0.6"/>
<circle cx="803" cy="452.2" r="1.1" fill="none" stroke="#cfcfcf" stroke-width="0.6"/>
<circle cx="808.7" cy="452.2" r="1.1" fill="none" stroke="#cfcfcf" stroke-width="0.6"/>
<circle cx="803" cy="457.7" r="1.1" fill="none" stroke="#cfcfcf" stroke-width="0.6"/>
<circle cx="808.7" cy="457.7" r="1.1" fill="none" stroke="#cfcfcf" stroke-width="0.6"/>
<circle cx="803" cy="463.3" r="1.1" fill="none" stroke="#cfcfcf" stroke-width="0.6"/>
<circle cx="808.7" cy="463.3" r="1.1" fill="none" stroke="#cfcfcf" stroke-width="0.6"/>
<circle cx="803" cy="468.9" r="1.1" fill="none" stroke="#cfcfcf" stroke-width="0.6"/>
<circle cx="808.7" cy="468.9" r="1.1" fill="none" stroke="#cfcfcf" stroke-width="0.6"/>
<circle cx="803" cy="474.5" r="1.1" fill="none" stroke="#cfcfcf" stroke-width="0.6"/>
<circle cx="808.7" cy="474.5" r="1.1" fill="none" stroke="#cfcfcf" stroke-width="0.6"/>
<circle cx="803" cy="480.1" r="1.1" fill="none" stroke="#cfcfcf" stroke-width="0.6"/>
<circle cx="808.7" cy="480.1" r="1.1" fill="none" stroke="#cfcfcf" stroke-width="0.6"/>
<circle cx="803" cy="485.6" r="1.1" fill="none" stroke="#cfcfcf" stroke-width="0.6"/>
<circle cx="808.7" cy="485.6" r="1.1" fill="none" stroke="#cfcfcf" stroke-width="0.6"/>
<circle cx="803" cy="491.2" r="1.1" fill="none" stroke="#cfcfcf" stroke-width="0.6"/>
<circle cx="808.7" cy="491.2" r="1.1" fill="none" stroke="#cfcfcf" stroke-width="0.6"/>
<circle cx="803" cy="496.8" r="1.1" fill="none" stroke="#cfcfcf" stroke-width="0.6"/>
<circle cx="808.7" cy="496.8" r="1.1" fill="none" stroke="#cfcfcf" stroke-width="0.6"/>
<circle cx="803" cy="502.4" r="1.1" fill="none" stroke="#cfcfcf" stroke-width="0.6"/>
<circle cx="808.7" cy="502.4" r="1.1" fill="none" stroke="#cfcfcf" stroke-width="0.6"/>
<circle cx="803" cy="508.0" r="1.1" fill="none" stroke="#cfcfcf" stroke-width="0.6"/>
<circle cx="808.7" cy="508.0" r="1.1" fill="none" stroke="#cfcfcf" stroke-width="0.6"/>
<circle cx="803" cy="513.5" r="1.1" fill="none" stroke="#cfcfcf" stroke-width="0.6"/>
<circle cx="808.7" cy="513.5" r="1.1" fill="none" stroke="#cfcfcf" stroke-width="0.6"/>
<circle cx="803" cy="519.1" r="1.1" fill="none" stroke="#cfcfcf" stroke-width="0.6"/>
<circle cx="808.7" cy="519.1" r="1.1" fill="none" stroke="#cfcfcf" stroke-width="0.6"/>
<rect x="799.2" y="535.5" width="7.6" height="58.2" fill="none" stroke="#8a8a8a" stroke-width="0.9"/>
<circle cx="803" cy="539.0" r="1.1" fill="none" stroke="#cfcfcf" stroke-width="0.6"/>
<circle cx="803" cy="544.6" r="1.1" fill="none" stroke="#cfcfcf" stroke-width="0.6"/>
<circle cx="803" cy="550.2" r="1.1" fill="none" stroke="#cfcfcf" stroke-width="0.6"/>
<circle cx="803" cy="555.8" r="1.1" fill="none" stroke="#cfcfcf" stroke-width="0.6"/>
<circle cx="803" cy="561.4" r="1.1" fill="none" stroke="#cfcfcf" stroke-width="0.6"/>
<circle cx="803" cy="567.0" r="1.1" fill="none" stroke="#cfcfcf" stroke-width="0.6"/>
<circle cx="803" cy="572.6" r="1.1" fill="none" stroke="#cfcfcf" stroke-width="0.6"/>
<circle cx="803" cy="578.2" r="1.1" fill="none" stroke="#cfcfcf" stroke-width="0.6"/>
<circle cx="803" cy="583.8" r="1.1" fill="none" stroke="#cfcfcf" stroke-width="0.6"/>
<circle cx="803" cy="589.4" r="1.1" fill="none" stroke="#cfcfcf" stroke-width="0.6"/>
<text x="799.5" y="434.3" font-size="6.2" fill="#e8e8e8" font-weight="bold" font-family="Liberation Sans, sans-serif" letter-spacing="-0.2">CN8</text>
<text x="799.5" y="533.5" font-size="6.2" fill="#e8e8e8" font-weight="bold" font-family="Liberation Sans, sans-serif" letter-spacing="-0.2">CN9</text>
<path d="M680 305.4H807q7.2 0 7.2 7.2V461q0 5-5 5H808" fill="none" stroke="#d0501f" stroke-width="2.4000000000000004"/>
<path d="M680 355.5H784.8q7 0 7 7V462.5q0 7 7 7H803" fill="none" stroke="#8768a9" stroke-width="2.4000000000000004"/>
<path d="M680 380.5H779.4q7 0 7 7V468q0 7 7 7H803" fill="none" stroke="#8768a9" stroke-width="2.4000000000000004"/>
<path d="M680 428.2H768.5q7 0 7 7V479q0 6.8 6.8 6.8H803" fill="none" stroke="#8768a9" stroke-width="2.4000000000000004"/>
<path d="M680 452.7H762.5q7 0 7 7V485q0 6.9 6.9 6.9H803" fill="none" stroke="#8768a9" stroke-width="2.4000000000000004"/>
<path d="M680 477.8H756.9q7 0 7 7V490.2q0 7 7 7H803" fill="none" stroke="#8768a9" stroke-width="2.4000000000000004"/>
<path d="M916 280.2H833q-7.5 0-7.5 7.5V469.6q0 5-5 5H808" fill="none" stroke="#a69d84" stroke-width="2.4000000000000004"/>
<path d="M916 305.4H838.9q-8 0-8 8V475.4q0 5-5 5H808" fill="none" stroke="#a69d84" stroke-width="2.4000000000000004"/>
<path d="M916 330.5H844.6q-8 0-8 8V481q0 5-5 5H808" fill="none" stroke="#a69d84" stroke-width="2.4000000000000004"/>
<path d="M916 355.5H850.4q-8 0-8 8V486.6q0 5-5 5H808" fill="none" stroke="#a69d84" stroke-width="2.4000000000000004"/>
<path d="M916 380.5H855.7q-8 0-8 8V492q0 5-5 5H808" fill="none" stroke="#a69d84" stroke-width="2.4000000000000004"/>
<path d="M680 617.9H756q7.7 0 7.7-7.7V516q0-7.8 7.8-7.8H803" fill="none" stroke="#cd7e22" stroke-width="2.4000000000000004"/>
<path d="M680 642.8H761.5q8 0 8-8V521q0-6.8 6.8-6.8H803" fill="none" stroke="#cd7e22" stroke-width="2.4000000000000004"/>
<path d="M680 667.8H767.5q8 0 8-8V526q0-6 6-6H803" fill="none" stroke="#cd7e22" stroke-width="2.4000000000000004"/>
<path d="M916 618.1H833.6q-8 0-8-8V516.2q0-8-8-8H808" fill="none" stroke="#cd7e22" stroke-width="2.4000000000000004"/>
<path d="M916 642.8H827.7q-8 0-8-8V521q0-6.8-6.8-6.8H808" fill="none" stroke="#cd7e22" stroke-width="2.4000000000000004"/>
<path d="M916 667.8H821.7q-8 0-8-8V525q0-5-5-5H808" fill="none" stroke="#cd7e22" stroke-width="2.4000000000000004"/>
<path d="M876.4 441.2H1150.7" fill="none" stroke="#17a0bd" stroke-width="2.4000000000000004"/>
<path d="M1123.8 533.3H1150.7" fill="none" stroke="#17a0bd" stroke-width="2.4000000000000004"/>
<path d="M1123.8 558.2H1150.7" fill="none" stroke="#17a0bd" stroke-width="2.4000000000000004"/>
<path d="M846.8 583.6H1047q7.9 0 7.9 7.9V610.2q0 7.9 7.9 7.9H1150.7" fill="none" stroke="#17a0bd" stroke-width="2.4000000000000004"/>
<path d="M1054.9 493.4H1150.7" fill="none" stroke="#7cb334" stroke-width="2.4000000000000004"/>
<path d="M1150.7 513.5H1063q-8 0-8 8V522.4q0 8-8 8H852" fill="none" stroke="#7cb334" stroke-width="2.4000000000000004"/>
<rect x="568" y="296.6" width="16" height="16" fill="#bbbbbb"/>
<rect x="592.4" y="298.6" width="25" height="9" fill="#808080"/>
<rect x="568" y="346.6" width="16" height="16" fill="#bbbbbb"/>
<rect x="592.4" y="348.6" width="74" height="9" fill="#808080"/>
<rect x="568" y="371.6" width="16" height="16" fill="#bbbbbb"/>
<rect x="592.4" y="373.6" width="74" height="9" fill="#808080"/>
<rect x="568" y="419.5" width="16" height="16" fill="#bbbbbb"/>
<rect x="592.4" y="421.5" width="49" height="9" fill="#808080"/>
<rect x="568" y="444.5" width="16" height="16" fill="#bbbbbb"/>
<rect x="592.4" y="446.5" width="49" height="9" fill="#808080"/>
<rect x="568" y="469.5" width="16" height="16" fill="#bbbbbb"/>
<rect x="592.4" y="471.5" width="49" height="9" fill="#808080"/>
<rect x="568" y="609.3" width="16" height="16" fill="#bbbbbb"/>
<rect x="592.4" y="611.3" width="57" height="9" fill="#808080"/>
<rect x="568" y="634.4" width="16" height="16" fill="#bbbbbb"/>
<rect x="592.4" y="636.4" width="57" height="9" fill="#808080"/>
<rect x="568" y="659.4" width="16" height="16" fill="#bbbbbb"/>
<rect x="592.4" y="661.4" width="57" height="9" fill="#808080"/>
<rect x="928" y="271.6" width="16" height="16" fill="#bbbbbb"/>
<rect x="952.4" y="273.6" width="74" height="9" fill="#808080"/>
<rect x="928" y="296.6" width="16" height="16" fill="#bbbbbb"/>
<rect x="952.4" y="298.6" width="74" height="9" fill="#808080"/>
<rect x="928" y="321.6" width="16" height="16" fill="#bbbbbb"/>
<rect x="952.4" y="323.6" width="74" height="9" fill="#808080"/>
<rect x="928" y="346.6" width="16" height="16" fill="#bbbbbb"/>
<rect x="952.4" y="348.6" width="74" height="9" fill="#808080"/>
<rect x="928" y="371.6" width="16" height="16" fill="#bbbbbb"/>
<rect x="952.4" y="373.6" width="74" height="9" fill="#808080"/>
<rect x="928" y="609.3" width="16" height="16" fill="#bbbbbb"/>
<rect x="952.4" y="611.3" width="57" height="9" fill="#808080"/>
<rect x="928" y="634.4" width="16" height="16" fill="#bbbbbb"/>
<rect x="952.4" y="636.4" width="57" height="9" fill="#808080"/>
<rect x="928" y="659.4" width="16" height="16" fill="#bbbbbb"/>
<rect x="952.4" y="661.4" width="57" height="9" fill="#808080"/>
<rect x="1163" y="432.9" width="16" height="16" fill="#bbbbbb"/>
<rect x="1187.4" y="434.9" width="41" height="9" fill="#808080"/>
<rect x="1163" y="485.3" width="16" height="16" fill="#bbbbbb"/>
<rect x="1187.4" y="487.3" width="74" height="9" fill="#808080"/>
<rect x="1163" y="505.29999999999995" width="16" height="16" fill="#bbbbbb"/>
<rect x="1187.4" y="507.29999999999995" width="25" height="9" fill="#808080"/>
<rect x="1163" y="527.3" width="16" height="16" fill="#bbbbbb"/>
<rect x="1187.4" y="529.3" width="57" height="9" fill="#808080"/>
<rect x="1163" y="555.5" width="16" height="16" fill="#bbbbbb"/>
<rect x="1187.4" y="557.5" width="107" height="9" fill="#808080"/>
<rect x="1163" y="609.4" width="16" height="16" fill="#bbbbbb"/>
<rect x="1187.4" y="611.4" width="66" height="9" fill="#808080"/>
<path d="M529.3 703.7L535.3 698.3H1111.6L1132 678.6H1313V696H1263.7L1257 703.7Z" fill="#333"/>
<text x="0" y="0" transform="translate(1139.7 696.9) scale(0.745 1)" font-size="17" font-weight="bold" fill="#d9d9d9" stroke="#d9d9d9" stroke-width="0.9" font-family="Liberation Sans, sans-serif">I/O Configuration</text></svg>
<div class="abs" style="left:517px;top:1015.56px;font-size:12.8px;line-height:12.8px;color:#3a6ea5;white-space:nowrap;">IOConfig</div>
<div class="abs" style="left:1419px;top:68px;width:501px;height:976px;background:#e4e4e4"></div>
<div class="abs" style="left:1448px;width:400px;text-align:center;top:548.56px;font-size:14.7px;line-height:14.7px;color:#bcbcbc;white-space:nowrap;text-shadow:0 1px 0 #f6f6f6;">Select objects in the canvas for editing properties.</div>
<div class="abs" style="left:1880px;top:73px;width:34px;height:120px;background:#e6e6e6;border:1px solid #d6d6d6;box-shadow:2px 2px 3px rgba(0,0,0,.25)"></div>
<div class="abs" style="left:1851px;top:109px;width:92px;height:20px;transform:rotate(-90deg);font-size:14.8px;line-height:20px;color:#333;text-align:center">Properties</div>
<svg class="abs" style="left:1889px;top:161.5px;transform:rotate(-90deg)" width="17" height="17" viewBox="0 0 24 24"><path d="M3 17v2h6v-2H3zM3 5v2h10V5H3zm10 16v-2h8v-2h-8v-2h-2v6h2zM7 9v2H3v2h4v2h2V9H7zm14 4v-2H11v2h10zm-6-4h2V7h4V5h-4V3h-2v6z" fill="#444"/></svg>
<div class="abs" style="left:1884px;top:1012px;width:25px;height:25px;background:#dadada;border-radius:2px"></div>
<svg class="abs" style="left:1890px;top:1017px" width="14" height="14" viewBox="0 0 24 24"><path d="M16 9V4h1c.55 0 1-.45 1-1s-.45-1-1-1H7c-.55 0-1 .45-1 1s.45 1 1 1h1v5c0 1.66-1.34 3-3 3v2h5.97v7l1 1 1-1v-7H19v-2c-1.66 0-3-1.34-3-3z" fill="#707070"/></svg>
</body></html>
